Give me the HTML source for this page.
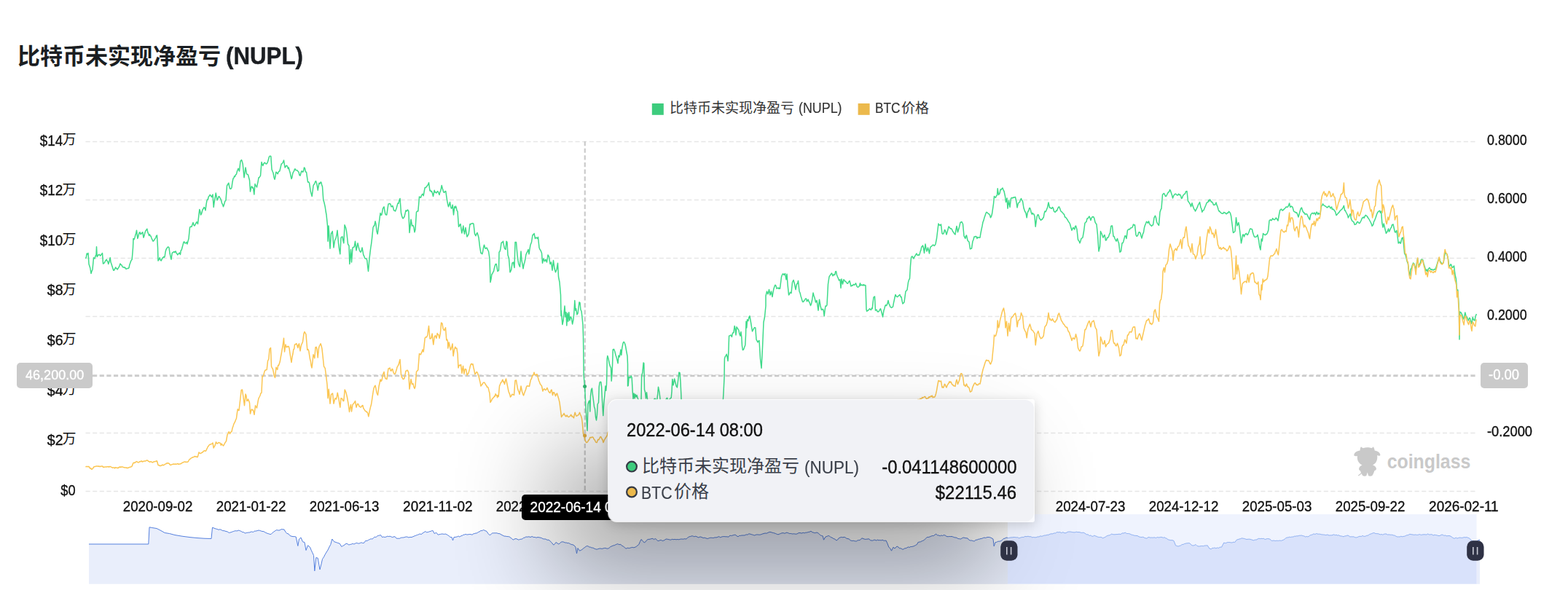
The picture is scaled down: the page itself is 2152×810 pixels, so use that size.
<!DOCTYPE html>
<html lang="zh"><head><meta charset="utf-8"><title>NUPL</title>
<style>
html,body{margin:0;padding:0;background:#fff;}
body{width:2152px;height:810px;position:relative;overflow:hidden;font-family:"Liberation Sans","Noto Sans CJK SC",sans-serif;}
svg{position:absolute;left:0;top:0;}
.t{position:absolute;white-space:nowrap;}
.b{position:absolute;}
.h{position:absolute;white-space:nowrap;font-family:"Liberation Sans","Noto Sans CJK SC",sans-serif;}
</style></head><body>
<svg width="2152" height="810" viewBox="0 0 2152 810">
<defs><filter id="bl" x="-60%" y="-120%" width="220%" height="340%"><feGaussianBlur stdDeviation="66"/></filter><clipPath id="csh"><path d="M0 0H2152V706H1383V802H0Z"/></clipPath><clipPath id="cstrip"><rect x="0" y="802" width="2152" height="8"/></clipPath><clipPath id="csel"><rect x="1383" y="706" width="643.5" height="95.7"/></clipPath></defs>
<line x1="117.5" x2="2025.5" y1="194.5" y2="194.5" stroke="#e6e6e6" stroke-width="1.5" stroke-dasharray="6.2 3.4"/>
<line x1="117.5" x2="2025.5" y1="274.5" y2="274.5" stroke="#e6e6e6" stroke-width="1.5" stroke-dasharray="6.2 3.4"/>
<line x1="117.5" x2="2025.5" y1="354.5" y2="354.5" stroke="#e6e6e6" stroke-width="1.5" stroke-dasharray="6.2 3.4"/>
<line x1="117.5" x2="2025.5" y1="434.5" y2="434.5" stroke="#e6e6e6" stroke-width="1.5" stroke-dasharray="6.2 3.4"/>
<line x1="117.5" x2="2025.5" y1="514.5" y2="514.5" stroke="#e6e6e6" stroke-width="1.5" stroke-dasharray="6.2 3.4"/>
<line x1="117.5" x2="2025.5" y1="594.5" y2="594.5" stroke="#e6e6e6" stroke-width="1.5" stroke-dasharray="6.2 3.4"/>
<line x1="117.5" x2="2025.5" y1="674.5" y2="674.5" stroke="#e6e6e6" stroke-width="1.5" stroke-dasharray="6.2 3.4"/>
<line x1="802.75" x2="802.75" y1="194" y2="674.5" stroke="#cbcbcb" stroke-width="2.2" stroke-dasharray="6.2 3.45"/>
<line x1="127" x2="2025.5" y1="516" y2="516" stroke="#cbcbcb" stroke-width="2.3" stroke-dasharray="6.2 3.45"/>
<polyline fill="none" stroke="#3fdb8a" stroke-width="1.5" stroke-linejoin="round" points="117.5,355.0 118.4,352.7 119.2,348.0 120.1,349.1 121.0,347.5 122.0,362.5 122.9,365.3 123.8,368.0 125.0,375.5 126.0,372.1 127.0,370.0 128.5,353.8 130.0,355.0 131.0,351.5 132.0,350.0 132.5,338.8 133.2,352.5 134.1,351.3 135.0,350.0 135.8,349.5 136.7,349.5 137.5,351.2 138.5,350.2 139.5,348.9 140.5,347.5 141.5,362.0 142.6,361.5 143.8,360.0 144.6,357.9 145.4,357.5 146.2,356.2 147.1,358.3 147.9,359.1 148.8,362.5 149.6,360.1 150.4,357.0 151.2,353.8 152.1,360.3 153.0,362.5 153.9,365.6 154.8,368.2 155.8,371.2 156.8,370.9 157.8,368.6 158.8,367.0 159.6,368.8 160.4,368.7 161.2,370.0 162.2,368.2 163.1,366.9 164.1,364.6 165.0,362.0 166.0,363.5 167.0,363.9 168.0,366.2 168.8,366.8 169.6,366.7 170.4,367.5 171.2,367.0 172.1,367.9 172.9,369.3 173.8,369.0 174.6,368.6 175.4,368.4 176.2,368.5 177.0,367.5 177.8,363.6 178.7,361.3 179.5,358.8 180.4,357.0 181.2,356.2 182.5,340.0 183.0,327.5 184.0,328.7 185.0,326.2 185.8,322.8 186.7,320.2 187.5,316.2 188.8,327.5 189.6,325.4 190.4,321.9 191.2,319.5 192.1,318.7 192.9,321.5 193.8,321.2 194.8,319.6 195.8,318.8 197.0,326.2 197.9,323.8 198.8,320.0 199.8,316.9 200.8,315.8 201.8,314.2 202.8,318.9 203.8,321.2 204.6,323.4 205.4,321.7 206.2,323.8 207.1,324.2 208.0,327.0 209.0,329.1 210.0,331.2 211.0,330.7 212.0,328.9 213.0,327.5 213.8,326.3 214.7,323.6 215.5,323.0 216.5,340.0 217.0,358.0 218.1,356.4 219.2,353.8 220.2,356.9 221.2,358.0 222.1,356.2 222.9,353.9 223.8,353.8 224.6,352.5 225.4,353.3 226.2,352.0 227.1,345.7 228.0,342.5 229.0,340.9 230.0,339.5 231.0,338.9 232.0,340.0 233.0,347.5 234.0,351.8 235.0,356.2 236.2,347.5 237.1,346.6 237.9,346.2 238.8,345.5 239.6,346.7 240.4,345.5 241.2,345.0 242.1,347.9 242.9,348.2 243.8,350.0 244.6,348.6 245.4,348.3 246.2,347.0 247.5,349.5 248.3,343.8 249.2,343.1 250.0,340.0 251.0,336.4 252.0,332.5 252.8,331.8 253.7,333.8 254.5,333.8 255.3,333.7 256.2,332.4 257.0,335.0 258.0,331.1 259.0,327.5 260.5,312.5 261.3,311.2 262.2,311.2 263.0,311.2 264.0,308.2 265.0,305.5 266.0,308.9 267.0,310.0 268.0,308.3 269.0,306.3 270.0,304.5 271.5,307.5 272.6,297.9 273.8,287.5 274.6,289.6 275.5,295.0 276.5,293.6 277.5,290.0 278.3,287.2 279.2,286.7 280.0,284.5 281.0,285.6 282.0,288.8 282.9,281.6 283.8,276.2 284.6,273.8 285.4,273.8 286.2,270.0 287.1,269.4 288.0,267.5 288.8,268.0 289.7,269.2 290.5,270.5 292.0,267.0 293.2,284.5 294.2,277.0 295.2,271.5 296.2,265.0 297.1,269.5 298.0,275.0 299.0,273.1 300.0,270.0 300.8,269.6 301.7,271.4 302.5,272.5 303.5,274.9 304.5,278.8 305.5,280.6 306.5,283.8 307.6,280.6 308.8,276.2 310.0,275.0 311.5,255.0 312.6,253.2 313.8,251.2 314.6,255.5 315.5,258.8 316.3,259.4 317.2,259.0 318.0,257.5 319.0,250.0 320.0,245.0 320.8,244.6 321.7,241.7 322.5,242.5 323.5,239.9 324.5,239.2 325.5,235.0 327.0,231.2 328.5,235.0 330.0,221.2 331.5,219.5 332.4,222.1 333.2,225.0 334.1,234.0 335.0,243.8 336.0,237.0 337.0,230.0 338.5,238.8 339.5,239.4 340.5,240.0 341.5,243.8 342.5,247.5 343.5,263.0 345.0,256.2 345.8,256.0 346.7,258.1 347.5,257.5 348.8,267.0 350.0,252.5 350.8,254.8 351.7,255.3 352.5,257.0 353.3,252.9 354.2,248.8 355.0,243.8 355.8,243.8 356.7,242.4 357.5,241.2 359.0,222.5 359.9,225.6 360.8,227.5 361.6,225.4 362.5,223.8 363.3,223.2 364.2,224.1 365.0,225.0 365.8,224.9 366.7,223.9 367.5,222.0 368.5,218.6 369.5,215.0 370.6,214.2 371.8,214.5 373.0,232.5 374.0,235.3 375.0,237.5 376.0,243.4 377.0,246.2 377.9,242.5 378.8,236.2 379.6,236.5 380.4,237.9 381.2,238.8 382.1,236.2 382.9,235.2 383.8,235.0 384.6,231.8 385.4,228.4 386.2,225.0 387.1,224.6 387.9,223.6 388.7,222.0 389.5,220.0 390.4,226.2 391.2,230.0 392.1,228.7 392.9,227.3 393.8,227.5 394.6,228.8 395.4,231.6 396.2,230.0 397.2,234.2 398.1,236.7 399.1,241.8 400.0,245.5 400.8,243.7 401.7,238.4 402.5,236.2 403.3,235.5 404.2,232.7 405.0,231.8 406.0,233.6 407.0,233.8 408.0,233.8 409.0,235.3 410.0,236.2 411.0,240.6 412.0,241.2 412.9,237.8 413.8,235.0 414.6,235.0 415.5,236.2 416.5,234.8 417.5,230.0 418.5,231.3 419.5,236.1 420.5,236.2 421.5,243.1 422.5,250.0 423.5,249.7 424.5,251.2 425.4,256.9 426.2,262.5 427.2,266.1 428.2,269.5 429.1,262.4 430.0,255.0 430.8,253.2 431.7,252.6 432.5,250.0 433.5,248.5 434.5,251.2 435.4,255.8 436.2,261.2 437.1,256.0 438.0,251.2 439.0,252.3 440.0,250.0 440.8,250.3 441.7,253.9 442.5,256.2 443.8,275.0 444.6,276.9 445.4,280.2 446.2,283.8 447.1,290.0 448.0,295.0 449.5,310.0 450.0,331.2 451.0,310.0 452.0,326.0 453.0,341.2 454.5,320.0 455.4,320.0 456.2,317.5 457.1,328.2 458.0,340.0 459.5,330.0 460.4,328.4 461.2,326.2 462.1,322.3 463.0,316.2 464.5,333.8 465.6,342.1 466.8,348.8 468.0,326.2 469.0,325.3 470.0,325.0 470.9,330.4 471.8,333.8 473.0,308.8 474.5,312.5 475.4,316.7 476.2,322.5 477.5,335.0 479.0,337.5 479.8,362.5 480.6,354.1 481.5,342.5 482.5,360.0 484.0,340.0 485.1,339.5 486.2,338.8 487.5,331.2 489.0,343.8 490.0,338.6 491.0,333.8 492.0,338.4 493.0,342.5 494.0,345.1 495.0,346.2 496.0,344.7 497.0,340.0 497.9,344.9 498.8,350.0 499.6,351.3 500.4,353.9 501.2,355.0 502.1,355.0 502.9,355.1 503.8,357.5 504.6,365.8 505.5,372.5 507.0,355.0 507.9,347.2 508.8,340.0 509.6,334.8 510.5,327.5 512.0,312.5 512.9,310.3 513.8,310.0 515.0,303.8 516.0,308.0 517.0,317.5 518.2,321.2 519.1,314.6 520.0,307.5 521.0,300.1 522.0,292.5 522.9,295.2 523.8,295.0 524.6,291.1 525.5,286.2 527.0,283.8 527.9,289.0 528.8,293.8 529.8,294.9 530.8,295.0 531.9,287.2 533.0,280.0 534.0,279.8 535.0,279.5 536.0,280.4 537.0,283.8 537.9,283.6 538.8,282.5 539.6,284.9 540.5,288.8 541.5,289.0 542.5,290.0 543.3,288.1 544.2,285.8 545.0,282.5 546.0,279.1 547.0,279.3 548.0,274.5 549.0,272.5 550.5,292.5 551.3,295.8 552.2,298.4 553.0,300.0 554.0,299.0 555.0,297.5 556.0,293.3 557.0,288.8 557.8,290.1 558.7,289.1 559.5,288.0 560.8,290.0 562.0,319.5 563.0,310.8 564.0,301.2 565.5,310.0 567.0,309.5 568.0,312.5 569.0,318.8 570.0,315.0 571.5,291.2 572.6,290.0 573.8,290.0 574.6,281.0 575.5,270.0 576.5,270.8 577.5,271.2 578.3,268.7 579.2,267.3 580.0,266.2 581.2,268.8 582.2,262.8 583.2,257.5 584.4,257.5 585.5,256.2 586.5,254.8 587.5,253.5 588.5,250.8 590.0,262.0 590.8,261.4 591.7,263.2 592.5,262.5 593.5,265.5 594.5,269.5 595.4,265.1 596.2,261.2 597.1,264.1 597.9,263.8 598.8,265.0 599.8,263.6 600.8,262.5 601.9,264.8 603.0,267.5 603.8,263.9 604.6,262.4 605.4,259.0 606.2,254.5 607.1,258.2 607.9,260.8 608.8,263.8 609.8,264.3 610.8,262.8 611.8,262.5 612.8,269.8 613.8,276.2 614.6,280.4 615.5,283.8 616.5,280.7 617.5,277.5 618.5,283.4 619.5,286.2 620.4,285.3 621.2,281.2 622.5,295.0 623.8,283.8 624.6,285.4 625.4,282.9 626.2,285.0 627.1,289.2 628.0,290.0 629.5,311.2 630.3,310.6 631.2,308.3 632.0,307.5 632.9,313.7 633.8,320.0 634.8,316.0 635.8,310.0 636.6,316.7 637.5,321.2 639.0,312.5 640.0,319.5 641.0,325.0 642.1,323.3 643.2,321.2 644.1,314.4 645.0,307.5 645.8,308.1 646.7,307.1 647.5,307.0 648.0,307.0 649.0,306.4 650.0,307.5 651.5,321.2 653.0,323.8 654.0,321.1 655.0,319.5 656.0,322.7 657.0,326.2 658.5,338.8 660.0,347.5 660.8,347.4 661.7,348.7 662.5,346.2 663.5,340.0 664.5,336.2 666.0,341.2 667.0,341.1 668.0,340.0 668.8,341.6 669.7,343.6 670.5,345.0 672.0,355.0 673.0,387.5 674.0,383.1 675.0,376.2 675.8,376.1 676.7,373.6 677.5,372.5 678.4,368.2 679.2,365.0 680.2,362.5 681.2,362.5 682.1,367.4 683.0,372.5 684.5,371.2 685.0,346.2 685.9,345.5 686.8,342.5 688.0,333.8 688.8,332.7 689.7,332.7 690.5,331.2 691.5,336.9 692.5,341.2 694.0,342.5 695.0,331.2 696.0,332.5 697.0,350.0 698.5,355.0 700.0,373.8 700.9,372.2 701.8,370.0 703.0,361.2 704.5,360.0 706.0,367.5 707.0,332.5 708.5,332.5 710.0,350.0 710.9,357.2 711.8,362.5 712.6,364.3 713.5,366.2 715.0,345.0 716.0,357.5 717.0,362.4 718.0,368.8 719.0,363.3 720.0,360.0 720.9,355.8 721.8,350.0 722.6,347.8 723.5,346.2 725.0,342.5 726.0,348.8 727.0,342.2 728.0,336.2 729.5,332.5 731.0,322.5 732.0,322.3 733.0,320.5 734.5,327.5 735.5,326.2 736.5,326.2 737.5,327.5 738.5,325.5 740.0,340.0 741.0,342.5 742.0,343.8 743.5,347.5 744.5,361.2 746.0,355.0 747.5,358.8 749.0,356.2 750.5,360.0 752.0,350.0 753.5,352.5 755.0,362.5 756.5,360.0 758.0,371.2 759.5,357.5 761.0,368.8 762.5,373.8 764.0,370.0 765.5,361.2 766.5,380.0 768.0,387.5 769.5,405.0 770.0,433.8 770.2,426.2 771.0,435.0 771.9,445.6 773.1,440.0 774.0,431.2 775.0,420.0 776.0,435.0 776.9,428.8 777.8,446.9 778.8,430.0 779.8,441.2 780.8,428.8 781.9,440.0 783.1,435.0 784.4,436.9 785.6,445.0 786.9,438.8 787.8,430.0 788.8,412.5 789.8,426.2 790.6,423.8 791.9,431.9 793.1,430.0 794.0,422.5 795.0,414.8 796.0,415.6 796.9,425.0 798.1,427.5 799.0,436.2 800.0,446.2 800.5,462.5 800.8,485.0 801.0,500.0 801.2,516.2 802.5,530.4 803.1,541.2 804.0,560.0 805.0,575.0 806.0,591.2 806.5,575.0 806.9,555.0 808.1,551.2 809.0,550.0 809.8,565.0 810.5,543.8 811.5,535.0 812.5,533.1 813.5,542.5 814.5,550.0 815.6,558.8 816.5,561.2 817.5,572.5 818.5,576.9 819.4,570.0 820.2,555.0 821.5,552.5 822.2,531.2 823.1,525.0 823.9,524.2 824.8,524.4 825.6,531.2 826.5,550.0 827.8,570.6 828.8,553.8 830.0,541.2 831.0,530.0 831.8,536.2 832.5,527.5 832.9,512.5 833.2,492.5 833.8,488.5 835.0,492.5 836.5,500.0 837.5,503.1 838.5,505.0 839.2,523.1 840.0,512.5 840.6,500.0 841.0,487.5 841.2,480.0 842.5,479.4 843.8,482.5 845.0,487.5 845.9,490.1 846.9,493.8 848.1,498.8 849.0,488.1 850.2,490.0 851.1,486.0 851.9,480.0 852.8,487.5 853.8,477.5 855.2,470.6 856.1,469.4 856.9,470.2 857.7,472.0 858.5,475.0 859.8,482.5 861.0,488.8 861.5,500.0 861.5,530.0 862.2,529.4 863.1,517.5 864.1,518.1 865.0,518.8 866.2,516.0 867.2,518.8 868.1,536.2 869.0,547.5 870.0,540.0 871.0,546.9 871.9,541.2 873.1,545.0 874.0,542.5 875.0,546.2 875.9,548.3 876.9,550.0 877.7,557.5 878.5,565.0 880.0,550.0 880.6,516.2 881.9,511.2 883.1,498.1 883.8,498.8 884.1,512.5 884.5,535.0 885.6,538.8 886.5,546.9 887.5,538.8 888.5,547.5 890.0,565.0 890.8,568.7 891.7,571.3 892.5,575.0 893.3,569.9 894.2,566.1 895.0,560.0 896.0,556.4 897.1,551.3 898.1,547.5 899.4,547.2 900.6,552.5 901.9,547.5 902.7,540.9 903.5,531.2 905.0,538.8 906.0,547.5 907.5,570.0 908.3,571.5 909.2,576.7 910.0,580.0 910.8,574.8 911.7,569.2 912.5,562.5 913.4,555.1 914.4,547.5 915.6,546.2 916.6,549.0 917.5,552.5 918.4,550.5 919.4,547.5 920.3,546.7 921.2,546.2 922.0,537.5 922.8,520.6 924.0,528.8 924.8,524.8 925.6,520.0 926.9,525.0 928.1,530.0 929.4,531.9 930.6,522.5 931.9,511.2 933.1,511.9 934.0,525.0 934.8,541.2 935.0,547.5 936.2,575.0 937.1,576.6 937.9,583.7 938.8,587.5 939.6,583.5 940.4,581.7 941.2,577.5 942.1,583.2 942.9,588.2 943.8,592.5 944.7,589.6 945.6,587.9 946.6,584.7 947.5,582.5 948.4,586.4 949.4,589.9 950.3,593.0 951.2,597.5 952.2,596.8 953.1,593.2 954.1,588.1 955.0,587.5 955.9,591.1 956.9,591.9 957.8,595.7 958.8,598.8 959.7,596.0 960.6,593.9 961.6,592.4 962.5,590.0 963.4,592.2 964.4,593.7 965.3,597.5 966.2,600.0 967.2,597.2 968.1,595.3 969.1,590.3 970.0,587.5 970.9,588.3 971.9,590.9 972.8,593.7 973.8,595.0 974.7,590.5 975.6,586.9 976.6,584.2 977.5,580.0 978.4,581.9 979.4,583.9 980.3,585.1 981.2,587.5 982.2,582.4 983.1,578.5 984.1,574.2 985.0,570.0 985.9,570.9 986.9,572.9 987.8,574.2 988.8,575.0 989.6,569.2 990.4,562.9 991.2,556.2 992.5,547.5 993.1,537.5 994.0,518.8 994.4,492.5 995.2,489.8 996.0,488.8 997.2,486.2 998.1,490.0 999.0,495.6 999.8,485.0 1000.6,461.2 1001.9,460.6 1003.1,460.0 1004.4,462.5 1005.2,458.1 1006.1,456.5 1006.9,456.9 1008.1,447.5 1009.0,451.2 1010.0,460.0 1011.0,448.8 1012.2,450.6 1013.8,453.1 1015.0,458.8 1016.0,461.2 1016.9,455.6 1017.8,462.5 1018.5,475.0 1019.4,480.6 1020.3,480.1 1021.2,478.1 1022.8,473.8 1023.5,460.0 1024.0,441.2 1024.8,450.0 1025.6,438.8 1026.9,440.6 1028.1,435.0 1029.0,433.8 1030.5,442.5 1031.5,448.8 1032.5,455.0 1033.5,453.2 1034.5,451.2 1035.6,449.6 1036.8,450.0 1038.0,466.2 1039.0,467.9 1040.0,470.0 1041.0,468.2 1042.0,467.5 1043.5,492.5 1045.0,505.5 1046.5,477.5 1048.0,442.5 1049.5,435.0 1051.0,420.0 1051.0,406.2 1052.5,400.0 1054.0,403.8 1055.5,397.5 1057.0,405.0 1058.5,400.0 1060.0,407.5 1061.0,401.1 1062.0,396.2 1063.0,393.2 1064.0,391.2 1065.0,392.4 1066.0,396.2 1067.0,395.7 1068.0,395.0 1068.8,396.5 1069.7,395.2 1070.5,396.2 1071.5,388.2 1072.5,380.0 1074.0,376.2 1075.0,375.9 1076.0,377.5 1077.5,375.5 1079.0,383.8 1080.0,376.2 1081.0,390.0 1082.5,405.0 1083.5,403.7 1084.5,401.2 1086.0,402.5 1087.5,387.5 1089.0,384.5 1090.5,390.0 1092.0,397.5 1093.5,390.0 1094.5,389.4 1095.5,385.5 1097.0,400.0 1098.0,402.0 1099.0,406.2 1100.0,409.4 1101.0,413.0 1102.0,414.7 1103.0,413.8 1103.8,412.8 1104.7,411.4 1105.5,410.0 1106.5,410.0 1107.5,413.8 1108.4,412.4 1109.2,411.2 1110.1,414.0 1111.0,415.0 1112.5,419.5 1113.5,417.3 1114.5,412.5 1116.0,402.0 1117.0,406.0 1118.0,408.8 1119.5,415.0 1121.0,412.5 1122.0,418.9 1123.0,426.2 1124.5,411.2 1126.0,420.0 1127.5,425.5 1128.5,424.4 1129.5,424.5 1130.4,427.5 1131.2,433.8 1132.1,425.9 1133.0,420.0 1134.0,420.4 1135.0,418.8 1136.5,390.0 1138.0,380.0 1139.0,378.4 1140.0,377.0 1141.5,375.0 1143.0,378.8 1144.0,376.9 1145.0,377.5 1145.8,377.0 1146.7,372.7 1147.5,372.5 1148.5,377.4 1149.5,380.0 1150.5,382.2 1151.5,385.0 1153.0,383.8 1154.0,395.5 1155.0,383.0 1156.5,390.0 1158.0,383.8 1158.8,384.9 1159.7,386.0 1160.5,386.2 1161.5,387.7 1162.5,388.8 1163.5,389.3 1164.5,387.5 1166.0,385.5 1167.0,389.3 1168.0,393.0 1168.8,392.4 1169.7,391.7 1170.5,392.0 1171.3,390.4 1172.2,390.9 1173.0,391.2 1174.5,388.8 1176.0,393.0 1176.8,394.1 1177.7,394.2 1178.5,393.8 1179.5,392.5 1180.5,388.8 1181.3,392.0 1182.2,391.1 1183.0,391.2 1184.0,392.0 1185.0,390.6 1186.0,392.0 1186.0,391.2 1187.0,391.4 1188.0,392.0 1189.0,425.0 1189.8,427.4 1190.7,426.3 1191.5,426.2 1192.5,424.9 1193.5,423.8 1194.5,424.9 1195.5,425.5 1196.4,422.9 1197.2,423.8 1198.1,415.1 1199.0,408.0 1200.5,407.0 1201.5,426.2 1202.3,425.5 1203.2,425.2 1204.0,427.5 1204.8,428.0 1205.7,428.0 1206.5,427.0 1207.5,425.2 1208.5,423.8 1210.0,428.8 1211.5,435.0 1213.0,426.2 1213.9,423.4 1214.8,420.0 1215.6,418.7 1216.4,419.6 1217.2,418.8 1218.1,416.3 1219.0,412.5 1220.0,417.0 1221.0,418.8 1221.8,421.4 1222.7,421.7 1223.5,422.5 1224.5,421.8 1225.5,421.2 1226.4,416.1 1227.2,412.5 1228.1,408.0 1229.0,404.5 1230.0,406.6 1231.0,407.5 1232.0,407.4 1233.0,406.2 1234.0,405.4 1235.0,404.5 1236.0,407.5 1237.0,407.5 1238.0,412.8 1239.0,417.0 1240.0,416.0 1241.0,415.0 1242.0,407.3 1243.0,400.0 1244.0,399.1 1245.0,398.0 1246.5,387.5 1247.5,384.1 1248.5,382.5 1249.5,365.0 1250.5,353.8 1251.4,352.0 1252.2,352.0 1253.1,353.8 1254.0,355.0 1255.0,352.6 1256.0,351.2 1257.0,349.4 1258.0,348.0 1258.9,350.3 1259.8,350.5 1260.6,349.7 1261.4,350.5 1262.2,348.8 1263.1,345.4 1263.9,343.4 1264.8,338.8 1265.6,338.3 1266.5,337.0 1267.5,340.7 1268.5,347.5 1270.0,335.0 1271.0,341.1 1272.0,345.0 1273.5,340.0 1274.5,343.8 1275.5,348.0 1276.4,341.6 1277.2,338.8 1278.1,338.3 1278.9,337.7 1279.8,337.0 1280.6,336.0 1281.4,336.8 1282.2,337.5 1283.1,336.7 1284.0,335.0 1285.5,327.5 1287.0,315.0 1288.0,307.0 1288.9,309.1 1289.8,308.8 1290.6,309.4 1291.5,308.0 1293.0,320.5 1293.8,321.3 1294.7,320.8 1295.5,319.5 1296.4,315.6 1297.2,316.2 1298.1,318.5 1299.0,322.0 1300.0,318.7 1301.0,315.0 1302.0,311.1 1303.0,312.0 1303.8,313.3 1304.7,314.0 1305.5,313.8 1306.5,314.9 1307.5,317.5 1308.5,318.7 1309.5,320.5 1311.0,322.0 1312.0,315.4 1313.0,310.5 1314.5,318.8 1316.0,313.8 1317.0,309.6 1318.0,305.5 1319.0,305.0 1320.0,304.5 1321.5,307.5 1323.0,323.8 1323.9,325.6 1324.8,327.5 1325.6,324.3 1326.5,323.0 1328.0,330.0 1329.0,331.3 1330.0,332.0 1331.5,342.0 1332.5,341.3 1333.5,341.2 1335.0,331.2 1336.0,329.0 1337.0,325.0 1338.0,325.0 1339.0,324.5 1340.0,324.7 1341.0,327.5 1342.0,325.6 1343.0,326.2 1344.0,326.3 1345.0,326.2 1346.0,320.2 1347.0,315.0 1348.0,310.4 1349.0,305.0 1350.0,302.6 1351.0,298.8 1352.0,295.9 1353.0,293.0 1353.8,291.3 1354.7,291.6 1355.5,292.5 1356.5,293.6 1357.5,293.8 1358.5,295.3 1359.5,298.8 1360.5,297.2 1361.5,293.8 1362.5,286.8 1363.5,280.0 1364.5,269.5 1365.5,270.8 1366.5,271.2 1367.5,268.8 1368.5,268.0 1369.2,258.8 1370.5,267.5 1371.4,266.2 1372.2,265.0 1373.1,260.1 1374.0,260.5 1375.0,259.1 1376.0,258.0 1377.0,260.8 1378.0,262.5 1379.5,269.5 1380.5,277.5 1382.0,272.0 1383.0,286.2 1384.5,275.0 1386.0,284.5 1387.5,272.5 1388.6,271.4 1389.8,272.0 1390.6,270.9 1391.5,271.2 1392.5,270.8 1393.5,270.5 1395.0,277.5 1396.0,285.0 1397.5,278.8 1398.5,278.2 1399.5,277.5 1400.5,274.3 1401.5,272.5 1402.5,275.0 1403.5,276.2 1405.0,285.5 1406.5,290.0 1408.0,292.5 1409.2,298.8 1410.1,292.9 1411.0,290.0 1411.8,289.5 1412.7,285.7 1413.5,285.5 1414.5,288.3 1415.5,292.5 1416.3,294.1 1417.2,292.4 1418.0,293.8 1419.0,293.9 1420.0,297.0 1421.2,311.2 1422.1,304.7 1423.0,298.0 1423.9,295.4 1424.8,294.5 1425.6,296.2 1426.5,300.0 1427.5,300.6 1428.5,302.5 1429.5,301.2 1430.5,301.2 1431.4,299.1 1432.2,298.8 1433.1,293.4 1434.0,290.0 1435.0,290.8 1436.0,288.8 1437.5,285.0 1439.0,278.0 1440.5,285.0 1441.5,285.0 1442.5,286.2 1443.5,286.2 1444.5,284.5 1445.5,286.0 1446.5,290.0 1447.5,291.1 1448.5,291.2 1449.5,289.2 1450.5,289.5 1452.0,285.5 1453.5,283.8 1454.5,285.8 1455.5,288.8 1456.5,290.6 1457.5,291.2 1458.5,292.0 1459.5,293.8 1460.5,294.1 1461.5,298.0 1462.5,298.3 1463.5,299.5 1464.5,300.9 1465.5,302.5 1466.5,304.5 1467.5,305.5 1468.5,307.5 1469.5,311.2 1471.0,316.2 1472.0,314.1 1473.0,312.5 1473.9,313.8 1474.8,315.0 1475.6,311.0 1476.5,310.0 1478.0,315.0 1479.5,328.8 1480.3,330.3 1481.2,331.3 1482.0,333.8 1483.0,331.0 1484.0,327.5 1485.0,326.8 1486.0,326.2 1487.5,317.5 1489.0,306.2 1490.0,305.2 1491.0,304.5 1492.0,300.1 1493.0,300.0 1494.0,298.4 1495.0,297.0 1496.0,299.4 1497.0,302.5 1498.0,299.4 1499.0,298.0 1500.0,297.5 1501.0,298.0 1502.0,300.4 1503.0,305.0 1504.0,306.7 1505.0,308.0 1506.5,322.5 1508.0,345.0 1509.5,338.8 1510.5,317.5 1511.4,320.0 1512.2,321.2 1513.1,324.3 1514.0,326.2 1515.0,323.9 1516.0,322.5 1517.5,330.0 1518.5,329.6 1519.5,326.2 1520.5,326.4 1521.5,325.0 1522.5,321.6 1523.5,320.0 1524.8,310.5 1525.6,310.1 1526.5,310.0 1528.0,324.5 1529.0,324.5 1530.0,327.5 1531.0,329.3 1532.0,331.2 1533.5,327.5 1534.5,331.3 1535.5,333.8 1537.0,346.2 1538.5,345.0 1540.0,333.8 1541.0,333.6 1542.0,331.2 1543.0,327.1 1544.0,323.8 1545.0,324.0 1546.0,327.5 1547.5,316.2 1548.5,315.2 1549.5,314.5 1550.5,315.0 1551.5,313.0 1552.5,312.9 1553.5,312.5 1554.5,311.4 1555.5,308.0 1556.5,309.1 1557.5,308.8 1559.0,322.5 1560.0,324.5 1561.0,323.8 1562.0,321.8 1563.0,318.8 1564.0,318.8 1565.0,320.0 1566.0,323.9 1567.0,327.0 1568.5,321.2 1569.5,319.2 1570.5,312.5 1571.5,309.3 1572.5,307.0 1573.5,304.3 1574.5,305.0 1575.5,306.3 1576.5,303.8 1577.5,306.6 1578.5,308.8 1579.5,309.1 1580.5,310.5 1581.5,309.1 1582.5,308.8 1584.0,298.8 1585.5,296.2 1586.5,299.0 1587.5,304.5 1588.5,306.8 1589.5,308.0 1590.5,309.5 1592.0,291.2 1593.0,288.2 1594.0,286.2 1595.5,267.5 1596.5,266.1 1597.5,265.5 1598.5,267.1 1599.5,269.5 1600.5,269.5 1601.5,267.5 1602.5,265.5 1603.5,263.8 1604.5,263.4 1605.5,260.5 1606.5,262.0 1607.5,265.0 1608.5,267.9 1609.5,272.0 1610.5,269.3 1611.5,267.5 1612.5,266.4 1613.5,266.2 1614.5,267.0 1615.5,268.0 1616.5,268.0 1617.5,266.2 1618.5,267.7 1619.5,267.0 1620.5,268.8 1621.5,272.5 1622.5,271.8 1623.5,268.8 1624.5,267.6 1625.5,266.2 1626.5,266.1 1627.5,263.0 1629.0,262.5 1630.5,276.2 1631.5,277.3 1632.5,278.8 1633.5,280.5 1634.5,283.8 1636.0,278.8 1637.0,282.6 1638.0,285.0 1638.8,287.2 1639.7,287.9 1640.5,290.0 1641.5,288.1 1642.5,286.2 1643.5,283.9 1644.5,281.2 1645.5,279.7 1646.5,277.5 1648.0,285.0 1648.9,286.6 1649.8,291.2 1650.9,288.9 1652.0,288.8 1653.0,286.3 1654.0,283.8 1655.0,281.5 1656.0,278.8 1657.0,277.7 1658.0,277.5 1658.8,274.7 1659.7,276.2 1660.5,273.8 1661.5,275.3 1662.5,277.5 1663.5,277.2 1664.5,278.8 1665.5,281.4 1666.5,281.2 1667.3,281.2 1668.2,280.0 1669.0,278.0 1670.0,281.6 1671.0,283.8 1672.0,287.4 1673.0,290.0 1673.8,289.8 1674.7,291.4 1675.5,292.0 1676.3,292.7 1677.2,293.2 1678.0,293.0 1678.8,293.1 1679.7,291.4 1680.5,292.0 1681.3,292.0 1682.2,292.9 1683.0,293.8 1683.8,293.2 1684.7,292.1 1685.5,292.5 1686.5,290.2 1687.5,291.2 1688.5,292.7 1689.5,296.2 1691.0,307.5 1692.5,319.5 1693.3,319.1 1694.2,318.2 1695.0,317.5 1696.5,298.8 1698.0,310.0 1698.9,308.3 1699.8,305.5 1700.6,309.2 1701.5,316.2 1702.5,324.6 1703.5,333.8 1704.5,328.9 1705.5,322.5 1706.5,322.0 1707.5,325.0 1708.5,322.2 1709.5,321.2 1710.5,320.4 1711.5,322.5 1712.5,322.3 1713.5,320.0 1714.3,317.9 1715.2,315.3 1716.0,313.8 1716.8,314.3 1717.7,314.5 1718.5,315.0 1719.5,319.6 1720.5,322.5 1721.5,325.1 1722.5,325.5 1724.0,325.0 1725.0,324.5 1726.0,322.4 1727.6,330.0 1728.8,339.0 1730.0,343.0 1731.2,328.0 1732.4,331.0 1733.6,320.4 1734.6,321.7 1735.6,322.4 1736.4,322.7 1737.2,321.6 1738.2,321.7 1739.2,320.4 1740.8,316.0 1742.0,303.0 1743.6,301.6 1744.6,302.8 1745.6,302.0 1746.6,299.8 1747.6,301.0 1748.6,301.6 1749.6,301.6 1750.4,300.4 1751.2,299.0 1752.8,301.0 1754.0,303.0 1755.6,294.0 1756.8,288.4 1757.6,287.8 1758.4,287.0 1760.0,289.0 1761.6,288.0 1762.6,286.8 1763.6,286.0 1764.4,284.9 1765.2,284.0 1766.8,284.4 1767.6,283.8 1768.4,282.4 1769.6,279.0 1770.8,284.4 1771.6,283.9 1772.4,283.0 1774.0,284.4 1775.6,290.0 1776.4,290.6 1777.2,291.0 1778.8,292.0 1779.6,291.8 1780.4,293.6 1782.0,298.0 1783.6,292.0 1785.0,287.0 1786.4,285.0 1788.0,290.0 1789.6,292.4 1790.4,292.3 1791.2,294.4 1792.8,293.6 1793.6,293.9 1794.4,295.6 1796.0,299.0 1797.6,301.6 1798.4,296.4 1799.2,294.4 1800.8,292.4 1801.6,292.5 1802.4,293.6 1804.0,292.0 1805.6,295.0 1806.4,292.2 1807.2,291.0 1808.8,294.4 1809.6,292.4 1810.4,293.6 1812.0,294.0 1813.2,283.6 1814.8,281.6 1815.6,279.9 1816.4,281.6 1818.0,282.4 1819.6,283.6 1820.4,283.9 1821.2,285.0 1822.8,284.0 1823.6,283.0 1824.4,283.0 1826.0,286.0 1827.6,284.0 1828.4,287.5 1829.2,287.0 1830.8,288.0 1831.6,289.8 1832.4,290.0 1834.0,295.6 1835.6,294.0 1836.4,292.5 1837.2,292.4 1838.8,290.0 1839.6,288.8 1840.4,288.4 1842.0,287.0 1843.6,284.4 1844.4,282.4 1845.6,289.0 1846.4,289.1 1847.2,291.0 1848.8,294.0 1849.6,295.8 1850.4,299.0 1852.0,296.0 1853.2,293.6 1854.4,300.4 1856.0,303.6 1857.6,304.4 1858.4,306.1 1859.2,308.4 1860.2,308.0 1861.2,307.6 1862.8,304.4 1863.6,304.4 1864.4,305.6 1865.4,306.5 1866.4,306.0 1868.0,303.0 1869.6,299.0 1870.4,299.1 1871.2,298.0 1872.2,299.3 1873.2,297.0 1874.2,295.3 1875.2,296.0 1876.8,297.6 1877.6,299.4 1878.4,300.0 1880.0,303.0 1881.6,306.0 1882.4,307.9 1883.2,310.4 1884.8,308.0 1885.6,304.1 1886.4,303.0 1888.0,299.0 1889.6,294.0 1890.4,292.2 1891.2,291.0 1892.8,289.6 1893.6,289.3 1894.4,292.0 1895.6,290.0 1896.8,306.0 1898.0,312.0 1899.2,307.0 1900.8,314.0 1901.6,317.2 1902.4,320.4 1904.0,318.0 1905.6,314.0 1906.4,318.0 1907.2,317.0 1908.8,313.0 1909.6,312.2 1910.4,309.0 1912.0,308.0 1913.6,315.0 1914.4,318.6 1915.2,319.0 1916.8,316.4 1918.0,324.0 1919.2,334.0 1920.8,332.0 1921.6,334.1 1922.4,334.0 1924.0,327.0 1925.2,326.0 1926.4,335.0 1927.6,348.0 1929.0,350.0 1930.0,354.0 1931.2,359.0 1932.4,362.0 1933.6,373.0 1934.8,379.0 1936.0,370.0 1937.2,368.0 1938.4,364.0 1939.6,361.0 1940.8,362.0 1942.0,366.0 1943.2,370.0 1944.4,361.0 1945.6,355.0 1946.8,364.0 1948.0,364.0 1949.6,360.0 1950.4,356.6 1951.2,356.0 1952.8,357.0 1954.0,362.0 1955.6,367.0 1956.8,372.0 1958.0,370.0 1959.2,373.0 1960.4,369.0 1962.0,367.6 1963.6,370.0 1964.4,370.2 1965.2,369.6 1966.8,371.0 1967.6,370.4 1968.4,369.6 1970.0,370.0 1971.6,365.0 1972.8,361.0 1974.0,357.0 1975.2,354.0 1976.4,358.0 1978.0,361.0 1979.6,362.0 1980.4,361.4 1981.2,360.0 1982.4,352.0 1983.6,346.0 1984.8,348.0 1985.6,348.6 1986.4,351.0 1987.6,356.0 1988.8,366.0 1990.0,365.0 1991.0,362.7 1992.0,364.0 1993.0,367.4 1994.0,367.0 1995.6,365.0 1996.4,372.6 1997.2,378.0 1998.4,383.0 1999.6,398.0 2000.8,398.0 2001.6,410.0 2002.4,424.0 2003.0,466.0 2003.6,428.0 2004.4,428.8 2005.2,429.0 2006.8,432.4 2007.6,434.8 2008.4,438.0 2009.6,435.6 2010.8,429.0 2012.0,434.0 2013.6,436.0 2014.4,438.2 2015.2,440.0 2016.8,436.4 2017.6,437.1 2018.4,440.0 2019.6,444.0 2020.4,440.7 2021.2,435.6 2022.4,439.0 2024.0,440.0 2025.2,434.0 2026.4,431.0"/>
<polyline fill="none" stroke="#fbc653" stroke-width="1.5" stroke-linejoin="round" points="117.5,641.0 118.4,640.5 119.4,640.4 120.3,640.8 121.2,640.5 122.1,640.6 122.9,642.1 123.8,643.0 124.6,642.7 125.4,644.2 126.2,644.2 127.1,643.2 127.9,642.5 128.8,641.0 129.7,640.6 130.6,640.6 131.6,640.2 132.5,640.0 133.4,639.9 134.4,640.3 135.3,640.0 136.2,640.5 137.2,640.3 138.1,640.5 139.1,640.1 140.0,640.0 140.8,640.3 141.7,641.5 142.5,641.2 143.4,641.2 144.4,640.9 145.3,641.1 146.2,641.0 147.1,640.8 147.9,640.7 148.8,640.6 149.6,641.3 150.4,640.6 151.2,640.5 152.2,640.9 153.1,641.5 154.1,642.2 155.0,642.0 155.8,642.0 156.7,641.9 157.5,642.9 158.3,641.7 159.2,642.1 160.0,642.2 160.9,642.3 161.9,642.7 162.8,641.6 163.8,641.8 164.7,640.8 165.6,641.6 166.6,641.0 167.5,641.0 168.4,641.1 169.4,641.6 170.3,641.8 171.2,642.0 172.2,642.1 173.1,642.0 174.1,642.6 175.0,642.2 175.9,642.5 176.9,641.8 177.8,641.4 178.8,641.2 179.6,641.1 180.4,640.6 181.2,640.0 182.1,637.4 183.0,635.5 183.8,635.2 184.7,635.5 185.5,635.0 186.5,634.2 187.5,633.5 188.5,634.2 189.5,635.0 190.5,634.6 191.5,634.0 192.5,633.5 193.4,633.5 194.4,632.9 195.3,634.0 196.2,633.5 197.1,633.4 197.9,632.9 198.8,633.0 199.8,632.9 200.8,632.3 201.8,631.8 202.7,632.3 203.6,633.2 204.5,633.5 205.5,634.3 206.5,633.8 207.5,633.8 208.3,634.5 209.2,634.9 210.0,634.5 211.0,633.9 212.0,633.7 213.0,633.5 213.8,633.6 214.7,632.7 215.5,633.0 217.0,638.5 218.0,638.7 219.0,639.4 220.0,639.2 220.9,639.4 221.9,639.0 222.8,638.1 223.8,638.5 224.6,638.8 225.4,637.9 226.2,637.6 227.0,637.0 228.0,636.8 229.0,635.8 230.0,636.0 230.8,635.8 231.7,636.1 232.5,636.8 233.5,638.2 234.5,638.5 235.5,637.8 236.5,637.6 237.5,637.2 238.4,637.1 239.4,637.3 240.3,637.2 241.2,637.0 242.2,637.2 243.1,636.9 244.1,636.4 245.0,637.5 245.8,637.3 246.7,637.1 247.5,636.8 248.3,636.7 249.2,635.9 250.0,635.5 250.8,634.9 251.7,634.8 252.5,634.2 253.3,633.9 254.2,634.1 255.0,634.5 255.8,634.1 256.7,634.4 257.5,634.2 258.3,633.6 259.2,632.0 260.0,630.5 261.0,630.2 262.0,629.2 263.0,628.5 263.8,628.3 264.7,627.7 265.5,627.5 266.3,627.2 267.2,626.4 268.0,627.0 268.8,626.8 269.6,626.9 270.4,627.6 271.2,627.5 272.1,624.4 273.0,621.0 273.8,621.8 274.7,622.5 275.5,622.5 276.3,621.7 277.2,621.5 278.0,620.5 278.8,620.4 279.7,619.2 280.5,618.5 281.5,619.2 282.5,619.2 283.5,617.1 284.5,615.0 285.3,613.2 286.2,612.4 287.0,611.0 288.0,610.3 289.0,610.0 290.0,609.7 291.0,609.2 292.0,608.0 293.2,615.0 294.1,613.2 295.0,611.8 296.5,606.8 298.0,609.2 299.0,608.5 300.0,607.5 302.5,608.5 303.3,611.2 304.2,609.3 305.0,610.5 306.5,612.0 307.6,610.3 308.8,608.0 309.6,606.9 310.5,605.5 312.0,596.8 312.9,595.6 313.8,593.0 314.6,593.1 315.5,595.5 316.3,594.1 317.2,592.9 318.0,592.5 319.0,587.8 320.0,585.0 320.8,582.4 321.7,580.7 322.5,579.2 323.5,576.5 324.5,574.2 325.4,567.2 326.2,561.8 327.1,563.0 328.0,563.5 329.5,550.5 330.4,542.5 331.2,535.5 332.5,535.0 334.0,545.5 335.5,556.8 337.0,541.0 337.9,543.0 338.8,550.5 339.6,550.3 340.5,548.0 341.5,550.2 342.5,553.0 343.5,568.0 345.0,562.5 345.8,562.0 346.7,563.1 347.5,563.0 349.0,569.2 350.5,556.8 351.5,558.6 352.5,560.0 353.3,555.6 354.2,550.4 355.0,546.8 356.0,545.0 357.0,543.0 358.0,539.8 359.0,539.2 360.0,516.8 361.0,516.7 362.0,514.2 362.9,510.3 363.8,508.5 364.6,508.0 365.4,507.8 366.2,507.5 367.5,495.5 368.8,493.0 370.0,479.2 371.5,477.5 372.5,503.0 373.5,505.1 374.5,506.8 375.4,511.2 376.2,516.0 377.5,518.5 379.0,504.2 379.9,506.3 380.8,507.5 381.6,501.5 382.5,501.8 383.4,499.1 384.2,496.8 385.2,490.9 386.2,485.5 387.1,480.0 388.0,475.5 389.5,464.2 390.5,483.0 392.0,473.0 392.9,476.1 393.8,476.8 394.6,475.4 395.4,475.7 396.2,475.5 397.1,478.7 398.0,485.5 399.0,491.6 400.0,497.5 401.0,490.0 402.0,485.5 402.8,479.9 403.7,479.1 404.5,473.0 405.3,473.1 406.2,472.0 407.0,471.8 407.9,474.7 408.8,477.5 409.6,473.3 410.5,471.8 412.0,481.8 412.9,476.4 413.8,473.0 414.6,471.4 415.5,469.2 417.0,458.0 417.9,455.4 418.8,456.8 420.0,459.2 420.9,470.0 421.8,480.5 422.8,479.5 423.8,481.8 424.6,487.4 425.5,493.0 426.3,495.9 427.2,502.4 428.0,505.0 429.0,496.6 430.0,486.8 430.9,488.7 431.8,491.8 433.0,476.8 434.0,476.3 435.0,479.2 436.2,491.0 437.5,478.0 438.3,475.1 439.2,473.7 440.0,471.8 441.0,474.5 442.0,479.2 443.2,490.5 444.5,503.0 445.4,504.4 446.2,505.5 447.5,515.5 449.0,528.0 450.0,546.8 451.2,534.2 452.1,545.0 453.0,554.2 454.5,541.8 455.5,540.7 456.5,540.0 458.0,554.2 459.0,550.0 460.0,546.8 461.5,548.0 462.4,544.2 463.2,539.2 464.1,543.3 465.0,548.0 465.9,554.2 466.8,559.2 468.0,546.8 469.0,547.0 470.0,548.0 470.9,550.5 471.8,550.5 473.2,535.0 474.1,536.8 475.0,539.2 476.5,545.5 478.0,554.2 479.5,565.5 480.5,559.5 481.5,555.5 482.5,565.0 484.0,555.5 485.1,554.2 486.2,553.0 487.5,550.5 489.0,559.2 490.0,556.1 491.0,554.2 492.0,555.2 493.0,558.0 494.0,558.4 495.0,559.2 496.0,558.5 497.0,556.8 497.9,556.6 498.8,560.5 499.6,561.6 500.4,562.8 501.2,564.2 502.1,564.4 502.9,565.7 503.8,565.5 504.8,567.4 505.8,571.8 506.6,567.8 507.5,563.0 508.5,558.9 509.5,555.5 510.4,549.9 511.2,544.2 512.1,538.3 513.0,533.0 514.0,530.7 515.0,529.2 516.0,533.7 517.0,539.2 518.5,542.5 520.0,530.5 521.0,526.0 522.0,521.0 522.9,523.5 523.8,522.5 524.6,519.2 525.5,514.2 527.0,510.5 527.9,515.5 528.8,519.2 529.9,520.3 531.0,520.5 532.0,512.7 533.0,506.0 534.0,505.9 535.0,505.0 536.0,508.8 537.0,509.2 537.9,506.8 538.8,506.8 539.6,510.3 540.5,512.5 541.5,513.5 542.5,513.0 543.3,510.2 544.2,507.8 545.0,504.2 546.0,502.7 547.0,500.7 548.0,497.2 549.0,493.5 550.5,514.2 551.3,517.7 552.2,518.6 553.0,520.5 554.0,520.5 555.0,519.2 556.0,514.3 557.0,509.2 557.8,509.2 558.7,508.3 559.5,508.5 560.8,511.8 562.0,534.2 563.0,527.9 564.0,520.5 565.5,527.5 567.0,526.8 568.0,531.3 569.0,533.5 570.0,530.5 571.5,510.5 572.6,509.1 573.8,508.0 574.6,496.9 575.5,485.5 576.5,486.6 577.5,486.8 578.3,484.5 579.2,483.0 580.0,480.0 581.2,483.0 582.2,473.8 583.2,464.2 584.4,462.6 585.5,463.0 586.9,460.0 587.7,452.8 588.5,447.5 590.0,465.0 590.9,465.0 591.9,463.8 593.1,458.1 593.9,466.1 594.8,473.1 596.2,462.5 597.5,460.6 599.0,464.4 600.2,457.5 601.1,459.3 601.9,459.4 603.1,464.4 604.4,457.5 605.6,443.1 606.9,443.8 608.1,451.2 608.9,452.7 609.8,453.8 610.6,451.9 611.5,449.8 612.8,466.9 613.6,466.1 614.4,468.1 614.8,478.1 616.2,470.0 617.2,475.0 618.5,480.6 620.0,476.2 621.0,471.9 622.1,488.8 623.5,480.0 624.8,476.2 625.8,478.4 626.9,478.1 628.1,486.2 629.0,505.0 629.8,502.3 630.6,501.2 631.6,501.8 632.5,500.6 634.0,512.5 634.8,506.5 635.6,502.5 636.9,513.1 638.1,506.9 638.9,506.6 639.8,507.5 641.0,515.0 642.1,513.5 643.1,511.9 644.4,506.9 645.3,503.0 646.2,500.0 647.2,499.3 648.1,500.6 649.0,499.8 649.8,504.2 650.6,507.5 651.9,513.8 652.7,513.0 653.5,511.4 654.4,510.6 655.3,511.8 656.2,514.4 657.2,517.4 658.1,521.2 659.1,525.2 660.0,530.0 660.8,528.7 661.7,528.1 662.5,526.2 663.5,525.5 664.5,525.0 665.6,526.2 666.8,528.8 667.6,529.0 668.4,531.5 669.2,531.3 670.0,532.0 671.0,536.2 672.0,540.0 673.0,552.5 673.8,551.1 674.7,549.7 675.5,547.5 676.5,546.4 677.5,546.0 678.5,543.8 679.3,544.1 680.1,540.7 680.9,542.7 681.8,542.5 682.6,545.7 683.4,542.7 684.2,544.5 685.5,530.0 686.5,527.6 687.5,525.0 688.3,524.7 689.2,522.5 690.0,521.2 690.8,524.5 691.7,524.3 692.5,527.5 693.5,522.7 694.5,520.0 696.0,527.5 697.0,532.3 698.0,537.5 698.8,539.4 699.7,541.6 700.5,545.0 701.3,544.2 702.2,542.7 703.0,541.2 703.8,541.7 704.7,541.7 705.5,542.5 707.0,522.5 708.5,522.0 709.5,528.1 710.5,533.8 711.3,536.1 712.2,538.1 713.0,541.2 714.0,536.1 715.0,530.0 716.5,537.5 717.5,540.6 718.5,543.0 719.5,540.3 720.5,537.5 721.5,535.0 722.5,531.2 723.5,529.7 724.5,530.0 725.5,530.1 726.5,530.5 727.5,525.4 728.5,521.2 729.3,520.3 730.2,517.5 731.0,515.0 732.0,514.9 733.0,511.2 734.0,514.5 735.0,515.0 735.8,514.5 736.7,513.7 737.5,514.5 738.5,518.9 739.5,522.5 740.5,524.8 741.5,527.5 742.5,528.6 743.5,530.0 745.0,537.0 746.0,534.5 747.0,533.8 748.0,535.1 749.0,535.5 750.0,534.2 751.0,532.5 752.0,535.3 753.0,537.5 754.0,538.8 755.0,539.5 756.0,536.5 757.0,535.0 758.5,542.5 759.5,538.7 760.5,538.8 761.5,541.0 762.5,543.8 763.5,541.3 764.5,540.0 766.0,545.0 767.0,548.3 768.0,552.5 769.5,563.8 770.5,572.5 772.0,570.0 773.0,569.6 774.0,567.5 775.0,569.3 776.0,571.2 777.0,571.9 778.0,570.0 778.8,571.0 779.7,572.3 780.5,572.5 781.3,572.1 782.2,571.5 783.0,570.0 783.8,569.3 784.7,571.8 785.5,571.2 786.5,572.6 787.5,573.8 788.4,569.2 789.2,566.2 790.1,569.3 791.0,571.2 792.0,570.9 793.0,570.0 793.8,569.8 794.7,568.1 795.5,566.2 796.5,569.1 797.5,571.2 798.4,574.2 799.2,580.0 800.5,595.0 801.8,598.8 802.6,603.3 803.5,605.0 804.5,607.5 805.5,607.5 806.3,606.9 807.2,605.4 808.0,603.8 808.8,603.7 809.7,600.8 810.5,600.5 811.3,600.9 812.2,600.2 813.0,600.0 814.0,600.4 815.0,602.8 816.0,603.8 816.8,605.0 817.6,607.1 818.4,607.4 819.2,607.5 820.1,604.9 820.9,603.3 821.8,603.8 822.6,602.3 823.4,600.7 824.2,599.5 825.1,600.2 826.0,602.5 827.0,603.8 828.0,607.5 828.8,605.7 829.7,603.2 830.5,602.5 831.5,600.4 832.5,599.5 833.4,597.4 834.2,593.8 835.0,592.5 836.0,593.5 837.0,593.5 838.0,595.0 838.8,594.9 839.7,596.5 840.5,599.0 841.3,597.9 842.2,600.6 843.0,600.0 843.8,598.1 844.7,597.3 845.5,596.8 846.3,594.3 847.2,593.8 848.0,592.5 848.8,592.5 849.7,595.3 850.5,596.8 851.3,596.4 852.2,598.2 853.0,598.8 853.8,598.4 854.7,603.7 855.5,602.5 856.3,602.2 857.2,601.5 858.0,600.3 858.8,599.3 859.7,600.3 860.5,595.9 861.3,596.4 862.2,595.5 863.0,595.0 863.8,595.7 864.7,597.3 865.5,596.9 866.3,597.2 867.2,598.2 868.0,600.4 868.8,601.6 869.7,602.4 870.5,603.9 871.3,602.9 872.2,605.0 873.0,605.0 873.8,605.2 874.7,604.0 875.5,603.1 876.3,604.1 877.2,602.3 878.0,602.2 878.8,601.3 879.7,603.2 880.5,601.2 881.3,600.4 882.2,600.2 883.0,600.0 883.8,600.4 884.7,601.3 885.5,600.4 886.3,601.5 887.2,603.6 888.0,604.7 888.8,603.5 889.7,605.1 890.5,605.1 891.3,604.3 892.2,606.6 893.0,607.5 893.8,606.2 894.7,607.4 895.5,606.1 896.3,605.8 897.2,604.2 898.0,605.1 898.8,602.9 899.7,604.4 900.5,604.9 901.3,602.3 902.2,603.6 903.0,602.5 903.8,604.3 904.7,603.6 905.5,605.3 906.3,605.1 907.2,605.2 908.0,604.5 908.8,606.0 909.7,606.2 910.5,610.1 911.3,609.0 912.2,609.2 913.0,610.0 913.8,608.3 914.7,610.4 915.5,607.4 916.3,609.2 917.2,608.3 918.0,606.9 918.8,605.8 919.7,605.8 920.5,604.2 921.3,605.3 922.2,605.7 923.0,603.8 923.8,605.0 924.7,605.6 925.5,604.7 926.3,606.0 927.2,605.4 928.0,606.4 928.8,607.9 929.7,609.9 930.5,608.3 931.3,608.8 932.2,607.6 933.0,609.9 933.8,609.5 934.7,609.6 935.5,611.2 936.3,609.6 937.2,610.5 938.0,609.7 938.8,610.2 939.7,609.0 940.5,608.7 941.3,609.6 942.2,608.6 943.0,608.2 943.8,608.3 944.7,606.9 945.5,605.4 946.3,605.2 947.2,604.1 948.0,605.0 948.8,605.8 949.7,605.7 950.5,606.9 951.3,607.7 952.2,606.8 953.0,608.2 953.8,609.6 954.7,609.1 955.5,610.3 956.3,609.8 957.2,609.7 958.0,610.8 958.8,609.9 959.7,612.6 960.5,612.5 961.3,611.6 962.2,612.8 963.0,610.2 963.8,610.9 964.7,610.7 965.5,609.8 966.3,609.9 967.2,608.5 968.0,607.8 968.8,607.1 969.7,607.4 970.5,606.8 971.3,607.3 972.2,606.4 973.0,606.2 973.8,605.9 974.7,606.1 975.5,605.4 976.3,606.9 977.2,607.9 978.0,606.6 978.8,607.8 979.7,608.8 980.5,607.9 981.3,608.9 982.2,608.6 983.0,611.4 983.8,610.7 984.7,610.8 985.5,610.0 986.3,608.9 987.2,609.6 988.0,608.4 988.8,608.3 989.7,607.0 990.5,607.1 991.3,605.8 992.2,606.3 993.0,607.0 993.8,603.8 994.7,603.4 995.5,604.4 996.3,604.2 997.2,602.7 998.0,602.5 998.8,603.3 999.7,603.5 1000.5,604.0 1001.3,605.0 1002.2,603.6 1003.0,605.1 1003.8,605.0 1004.7,604.6 1005.5,605.9 1006.3,604.7 1007.2,604.9 1008.0,607.4 1008.8,605.9 1009.7,608.6 1010.5,607.5 1011.3,607.9 1012.2,606.0 1013.0,605.2 1013.8,603.6 1014.7,604.9 1015.5,603.1 1016.3,605.4 1017.2,602.0 1018.0,603.1 1018.8,600.1 1019.7,601.7 1020.5,602.6 1021.3,600.6 1022.2,599.8 1023.0,600.0 1023.8,599.9 1024.7,601.0 1025.5,601.8 1026.3,601.1 1027.2,599.9 1028.0,602.3 1028.8,603.2 1029.7,604.7 1030.5,603.1 1031.3,603.5 1032.2,603.2 1033.0,604.6 1033.8,605.9 1034.7,603.8 1035.5,605.0 1036.3,604.4 1037.2,602.8 1038.0,602.4 1038.8,602.2 1039.7,602.1 1040.5,600.3 1041.3,600.1 1042.2,600.8 1043.0,599.4 1043.8,598.9 1044.7,598.0 1045.5,596.8 1046.3,596.7 1047.2,596.1 1048.0,595.0 1048.8,595.3 1049.7,596.6 1050.5,596.0 1051.3,597.1 1052.2,596.7 1053.0,597.6 1053.8,596.7 1054.7,597.2 1055.5,597.0 1056.3,599.4 1057.2,599.1 1058.0,599.2 1058.8,599.9 1059.7,598.9 1060.5,600.0 1061.3,599.6 1062.2,598.6 1063.0,596.9 1063.8,597.8 1064.7,596.7 1065.5,598.2 1066.3,595.8 1067.2,595.5 1068.0,596.3 1068.8,595.0 1069.7,593.3 1070.5,594.2 1071.3,592.8 1072.2,594.5 1073.0,592.5 1073.8,591.8 1074.7,592.3 1075.5,590.9 1076.3,592.9 1077.2,595.4 1078.0,593.9 1078.8,593.4 1079.7,594.7 1080.5,594.5 1081.3,595.0 1082.2,597.4 1083.0,597.2 1083.8,597.1 1084.7,597.4 1085.5,596.2 1086.3,594.9 1087.2,593.4 1088.0,595.1 1088.8,594.3 1089.7,593.4 1090.5,592.6 1091.3,592.8 1092.2,592.1 1093.0,591.2 1093.8,590.8 1094.7,589.7 1095.5,588.9 1096.3,589.9 1097.2,587.9 1098.0,587.5 1098.8,589.6 1099.7,588.7 1100.5,588.6 1101.3,589.8 1102.2,588.7 1103.0,589.3 1103.8,589.5 1104.7,590.2 1105.5,591.1 1106.3,592.6 1107.2,591.6 1108.0,590.6 1108.8,591.1 1109.7,590.6 1110.5,592.5 1111.3,592.6 1112.2,592.3 1113.0,591.3 1113.8,590.8 1114.7,590.5 1115.5,589.9 1116.3,589.6 1117.2,588.7 1118.0,587.1 1118.8,588.3 1119.7,588.2 1120.5,585.1 1121.3,585.8 1122.2,584.5 1123.0,585.0 1123.8,585.8 1124.7,585.4 1125.5,587.2 1126.3,587.3 1127.2,586.3 1128.0,586.6 1128.8,586.8 1129.7,588.2 1130.5,587.2 1131.3,588.7 1132.2,587.4 1133.0,589.9 1133.8,589.7 1134.7,588.7 1135.5,590.0 1136.3,588.6 1137.2,588.8 1138.0,588.2 1138.8,584.8 1139.7,586.8 1140.5,587.3 1141.3,584.9 1142.2,583.5 1143.0,585.1 1143.8,583.5 1144.7,582.8 1145.5,582.5 1146.3,580.3 1147.2,580.1 1148.0,580.0 1148.8,579.3 1149.7,579.5 1150.5,580.5 1151.3,580.1 1152.2,582.6 1153.0,581.9 1153.8,582.5 1154.7,580.6 1155.5,582.1 1156.3,582.4 1157.2,582.9 1158.0,583.4 1158.8,582.5 1159.7,582.7 1160.5,583.8 1161.3,584.0 1162.2,584.5 1163.0,583.8 1163.8,581.2 1164.7,580.1 1165.5,580.4 1166.3,580.1 1167.2,580.6 1168.0,578.3 1168.8,577.3 1169.7,578.2 1170.5,576.1 1171.3,575.4 1172.2,576.0 1173.0,575.0 1173.8,575.1 1174.6,574.7 1175.4,575.7 1176.2,575.9 1177.1,576.4 1177.9,576.2 1178.7,577.7 1179.5,577.2 1180.3,577.3 1181.1,579.0 1181.9,577.6 1182.8,579.4 1183.6,579.6 1184.4,579.1 1185.2,579.9 1186.0,580.0 1186.0,580.0 1186.8,578.4 1187.7,579.7 1188.5,578.3 1189.3,578.1 1190.2,578.8 1191.0,577.7 1191.8,578.2 1192.7,578.1 1193.5,578.4 1194.3,577.6 1195.2,577.8 1196.0,576.0 1196.8,576.1 1197.7,576.7 1198.5,576.9 1199.3,575.9 1200.2,574.8 1201.0,575.0 1201.8,573.9 1202.7,573.9 1203.5,575.5 1204.3,573.6 1205.2,574.1 1206.0,574.7 1206.8,574.4 1207.7,573.3 1208.5,575.5 1209.3,573.7 1210.2,573.7 1211.0,574.0 1211.8,572.9 1212.7,573.6 1213.5,572.8 1214.3,572.0 1215.2,571.8 1216.0,572.5 1216.8,572.4 1217.7,571.7 1218.5,571.1 1219.3,570.4 1220.2,570.2 1221.0,570.7 1221.8,570.5 1222.7,568.9 1223.5,569.0 1224.3,566.7 1225.2,566.9 1226.0,566.9 1226.8,566.3 1227.7,567.3 1228.5,564.5 1229.3,566.3 1230.2,566.0 1231.0,565.0 1231.8,566.6 1232.7,564.0 1233.5,564.6 1234.3,565.2 1235.2,564.4 1236.0,562.5 1236.8,562.7 1237.7,561.8 1238.5,562.6 1239.3,562.8 1240.2,563.1 1241.0,562.1 1241.8,562.2 1242.7,562.0 1243.5,560.1 1244.3,561.1 1245.2,561.1 1246.0,560.0 1246.8,559.2 1247.7,557.8 1248.5,558.1 1249.3,557.5 1250.2,557.3 1251.0,554.5 1251.8,555.0 1252.7,556.4 1253.5,555.1 1254.3,553.2 1255.2,552.4 1256.0,551.8 1256.8,550.5 1257.7,550.3 1258.5,550.0 1259.4,549.6 1260.3,548.3 1261.2,548.9 1262.1,548.8 1263.0,547.1 1263.9,547.5 1264.8,547.5 1265.6,545.5 1266.4,546.2 1267.2,545.5 1268.1,545.4 1268.9,544.4 1269.8,544.5 1270.6,546.1 1271.5,547.5 1272.5,547.3 1273.5,546.2 1274.3,546.6 1275.2,544.6 1276.0,545.5 1276.8,544.9 1277.7,543.6 1278.5,544.5 1279.3,543.1 1280.2,545.7 1281.0,545.0 1281.8,545.2 1282.7,545.2 1283.5,543.8 1284.5,540.7 1285.5,536.2 1287.0,527.5 1288.0,522.5 1288.9,522.7 1289.8,523.8 1290.6,523.6 1291.5,523.0 1293.0,532.0 1293.8,531.0 1294.7,532.2 1295.5,530.5 1296.4,527.2 1297.2,528.0 1298.1,530.3 1299.0,532.0 1300.0,529.3 1301.0,527.5 1302.0,526.2 1303.0,523.8 1303.8,525.2 1304.7,524.0 1305.5,525.0 1306.5,527.7 1307.5,528.0 1308.5,529.7 1309.5,529.5 1311.0,530.5 1312.0,524.5 1313.0,521.2 1314.5,527.5 1316.0,523.8 1317.0,520.7 1318.0,514.5 1319.0,512.7 1320.0,513.0 1321.5,517.0 1323.0,528.8 1323.9,528.5 1324.8,530.5 1325.6,529.6 1326.5,527.0 1328.0,531.2 1329.0,531.3 1330.0,532.5 1331.5,538.0 1332.5,537.7 1333.5,537.0 1335.0,531.2 1336.0,529.1 1337.0,527.0 1338.0,525.8 1339.0,526.2 1340.0,528.5 1341.0,528.0 1342.0,528.8 1343.0,527.0 1344.0,527.1 1345.0,527.0 1346.0,523.0 1347.0,516.2 1348.0,511.9 1349.0,507.5 1350.0,504.6 1351.0,501.2 1352.0,498.1 1353.0,495.5 1353.8,494.2 1354.7,494.9 1355.5,495.0 1356.5,494.8 1357.5,496.2 1358.5,498.5 1359.5,500.0 1360.5,497.6 1361.5,495.0 1362.5,484.5 1363.5,475.0 1364.5,460.0 1365.5,461.7 1366.5,461.2 1367.5,457.8 1368.5,453.8 1369.2,440.0 1370.5,450.0 1371.4,447.2 1372.2,441.2 1373.1,437.2 1374.0,433.8 1375.0,429.7 1376.0,426.2 1377.5,423.0 1379.0,431.2 1380.0,450.0 1381.5,441.2 1383.0,461.2 1384.5,443.8 1386.0,455.0 1387.5,437.5 1388.6,435.6 1389.8,435.0 1390.6,433.7 1391.5,432.0 1392.5,430.9 1393.5,430.0 1395.0,437.5 1396.0,448.8 1397.5,440.0 1398.5,439.4 1399.5,438.8 1400.5,435.6 1401.5,429.5 1402.5,432.3 1403.5,433.8 1405.0,450.0 1406.5,453.8 1408.0,456.2 1409.2,463.8 1410.1,457.0 1411.0,451.2 1411.8,449.5 1412.7,446.9 1413.5,445.0 1414.5,448.5 1415.5,452.5 1416.3,453.0 1417.2,453.9 1418.0,454.5 1419.0,456.5 1420.0,457.5 1421.2,473.8 1422.1,467.1 1423.0,458.8 1423.9,456.7 1424.8,454.5 1425.6,457.2 1426.5,461.2 1427.5,463.1 1428.5,465.0 1429.5,464.2 1430.5,463.8 1431.4,462.3 1432.2,461.2 1433.1,454.0 1434.0,448.8 1435.0,447.4 1436.0,446.2 1437.5,441.2 1439.0,429.5 1440.5,438.8 1441.5,437.8 1442.5,440.0 1443.5,439.8 1444.5,437.5 1445.5,440.0 1446.5,441.2 1447.5,442.3 1448.5,442.0 1449.5,439.6 1450.5,438.8 1452.0,432.5 1453.5,430.0 1454.5,433.3 1455.5,436.2 1456.5,439.8 1457.5,441.2 1458.5,442.9 1459.5,445.0 1460.5,445.3 1461.5,447.5 1462.5,448.4 1463.5,449.5 1464.5,449.3 1465.5,453.0 1466.5,455.4 1467.5,456.2 1468.5,459.7 1469.5,462.5 1471.0,467.5 1472.0,464.5 1473.0,463.8 1473.9,465.2 1474.8,465.5 1475.6,463.1 1476.5,458.8 1478.0,464.5 1479.5,477.5 1480.3,479.5 1481.2,481.1 1482.0,482.0 1483.0,480.4 1484.0,476.2 1485.0,475.8 1486.0,475.0 1487.5,465.0 1489.0,452.5 1490.0,452.4 1491.0,450.0 1492.0,447.1 1493.0,444.5 1494.0,441.9 1495.0,440.5 1496.0,444.4 1497.0,448.8 1498.0,444.1 1499.0,441.2 1500.0,441.0 1501.0,440.0 1502.0,443.8 1503.0,448.8 1504.0,450.9 1505.0,452.5 1506.5,470.0 1508.0,488.8 1509.5,482.5 1510.5,462.5 1511.4,465.3 1512.2,467.5 1513.1,471.4 1514.0,472.5 1515.0,471.5 1516.0,467.5 1517.5,476.2 1518.5,473.9 1519.5,472.5 1520.5,471.7 1521.5,471.2 1522.5,468.2 1523.5,465.5 1524.8,454.5 1525.6,453.6 1526.5,453.8 1528.0,468.8 1529.0,471.5 1530.0,471.2 1531.0,474.2 1532.0,475.0 1533.5,471.2 1534.5,474.2 1535.5,477.5 1537.0,488.8 1538.5,487.5 1540.0,476.2 1541.0,473.8 1542.0,473.8 1543.0,469.5 1544.0,466.2 1545.0,468.8 1546.0,471.2 1547.5,460.0 1548.5,460.1 1549.5,457.5 1550.5,455.4 1551.5,455.5 1552.5,456.2 1553.5,454.5 1554.5,450.4 1555.5,448.8 1556.5,449.0 1557.5,448.8 1559.0,465.0 1560.0,464.3 1561.0,465.5 1562.0,462.1 1563.0,459.5 1564.0,458.0 1565.0,460.5 1566.0,464.3 1567.0,467.0 1568.5,460.0 1569.5,455.7 1570.5,451.2 1571.5,446.6 1572.5,443.8 1573.5,440.1 1574.5,440.0 1575.5,438.7 1576.5,437.5 1577.5,441.0 1578.5,444.5 1579.5,443.8 1580.5,445.5 1581.5,444.4 1582.5,442.5 1584.0,427.5 1585.5,425.0 1586.5,429.9 1587.5,435.0 1588.5,436.1 1589.5,438.5 1590.5,441.2 1591.5,417.5 1592.5,412.3 1593.5,411.2 1595.0,400.0 1596.0,372.5 1597.5,367.5 1598.5,373.8 1600.0,363.8 1601.5,362.5 1603.0,357.5 1604.5,342.5 1606.0,335.0 1607.5,340.0 1609.0,345.0 1610.0,357.5 1611.5,343.8 1612.5,343.1 1613.5,341.2 1615.0,343.8 1616.5,338.8 1617.5,338.3 1618.5,336.2 1619.5,332.3 1620.5,328.8 1622.0,341.2 1623.5,327.5 1624.5,325.8 1625.5,326.2 1627.0,315.0 1628.0,311.2 1629.5,325.0 1631.0,337.5 1632.0,338.4 1633.0,341.2 1634.5,346.2 1636.0,334.5 1637.5,348.8 1638.5,349.1 1639.5,350.0 1641.0,355.5 1642.0,352.0 1643.0,350.0 1644.5,338.8 1646.0,335.0 1647.0,325.0 1648.0,345.0 1648.9,350.5 1649.8,355.5 1650.6,352.0 1651.5,350.0 1652.5,350.1 1653.5,348.8 1655.0,336.2 1656.5,325.0 1658.0,315.0 1659.5,320.0 1660.5,311.2 1662.0,315.0 1663.5,321.2 1665.0,320.0 1666.5,326.2 1667.5,321.6 1668.5,315.0 1670.0,325.0 1671.5,336.2 1672.5,338.2 1673.5,341.2 1674.3,341.0 1675.2,339.6 1676.0,342.5 1676.8,341.7 1677.7,341.1 1678.5,340.0 1679.3,339.6 1680.2,341.8 1681.0,341.2 1681.8,341.8 1682.7,342.4 1683.5,344.5 1684.5,344.2 1685.5,342.5 1686.5,340.4 1687.5,337.5 1688.5,338.9 1689.5,343.8 1691.0,360.0 1692.5,383.8 1693.3,382.9 1694.2,382.1 1695.0,383.0 1696.5,351.2 1697.5,376.2 1699.0,363.8 1700.5,372.5 1702.0,385.0 1703.5,403.8 1705.0,390.0 1706.0,388.6 1707.0,387.5 1708.0,387.0 1709.0,386.2 1710.0,386.7 1711.0,388.0 1712.5,377.0 1714.0,387.5 1715.0,382.0 1716.0,376.2 1716.8,376.6 1717.7,375.1 1718.5,375.0 1719.5,374.5 1720.5,376.2 1722.0,387.5 1723.0,387.3 1724.0,388.8 1725.2,390.0 1726.8,387.0 1728.0,404.0 1729.2,406.0 1730.0,411.6 1731.2,391.0 1732.0,398.0 1733.2,383.0 1734.4,387.0 1736.0,384.4 1737.0,384.7 1738.0,383.6 1739.0,382.8 1740.0,379.0 1741.2,368.0 1742.0,360.0 1742.8,354.0 1743.6,352.3 1744.4,351.0 1746.0,351.6 1747.0,350.9 1748.0,349.6 1749.6,348.0 1750.4,345.3 1751.2,344.0 1752.0,341.6 1753.2,347.0 1754.4,350.0 1755.6,339.0 1756.8,326.0 1758.0,316.0 1759.2,315.0 1760.8,318.0 1761.6,318.0 1762.4,319.0 1764.0,317.0 1765.2,318.0 1766.4,309.0 1767.6,310.0 1768.8,299.0 1769.6,292.0 1770.4,305.0 1772.0,299.0 1773.6,299.0 1774.8,303.0 1776.0,314.0 1777.2,317.0 1778.4,313.0 1780.0,311.0 1781.2,316.0 1782.4,325.6 1783.6,312.0 1784.8,301.0 1786.0,296.4 1787.2,298.0 1788.4,307.0 1789.6,312.0 1790.8,309.0 1791.6,311.1 1792.4,311.6 1794.0,316.0 1795.6,320.0 1796.8,325.6 1797.6,327.6 1798.8,316.0 1800.0,309.0 1801.2,307.0 1802.4,308.4 1803.6,303.6 1804.8,310.0 1806.0,305.0 1807.2,300.0 1808.4,303.0 1809.6,299.0 1810.4,299.1 1811.2,300.0 1812.4,292.0 1813.2,276.0 1814.4,269.0 1816.0,265.0 1817.2,263.0 1818.4,268.0 1819.6,265.6 1820.8,270.0 1821.6,268.6 1822.4,267.0 1824.0,262.4 1825.2,264.0 1826.4,270.0 1828.0,269.0 1829.6,265.6 1830.8,270.0 1832.0,271.0 1833.2,280.0 1834.4,288.0 1835.6,284.0 1836.8,279.0 1838.0,276.0 1839.2,272.0 1840.4,267.0 1842.0,266.0 1843.2,264.0 1844.4,251.0 1845.2,267.0 1846.4,271.0 1848.0,271.6 1849.2,278.0 1850.4,286.0 1851.6,282.0 1852.8,274.0 1854.0,284.0 1855.2,296.0 1856.0,288.0 1857.2,289.0 1858.4,298.0 1859.6,301.6 1860.4,301.9 1861.2,302.0 1862.4,294.0 1863.6,291.0 1864.8,296.0 1865.6,296.5 1866.4,295.0 1868.0,290.0 1869.6,284.0 1870.4,280.7 1871.2,277.0 1872.8,275.6 1873.6,274.9 1874.4,274.4 1876.0,273.0 1877.6,275.0 1878.8,279.0 1880.0,285.0 1881.2,290.0 1882.4,288.0 1883.6,299.0 1884.4,295.2 1885.2,292.0 1886.4,284.0 1887.6,282.4 1888.8,266.0 1890.0,256.0 1891.6,251.0 1893.0,247.0 1894.4,253.0 1895.6,255.0 1896.4,270.0 1897.2,292.0 1898.4,281.0 1899.6,285.0 1900.8,294.0 1902.0,304.0 1903.2,307.6 1904.8,298.0 1906.0,302.0 1907.2,297.0 1908.8,290.0 1909.6,286.5 1910.4,284.0 1911.6,281.6 1912.4,285.2 1913.2,287.0 1914.4,302.0 1916.0,297.0 1917.6,296.0 1918.8,318.0 1920.0,325.0 1921.6,320.0 1922.8,318.0 1924.0,312.0 1925.2,311.0 1926.0,320.0 1927.2,330.0 1928.4,348.0 1930.0,349.0 1931.2,358.0 1932.4,360.0 1933.6,374.0 1934.8,382.0 1936.0,383.0 1937.2,374.0 1938.4,366.0 1939.6,362.0 1940.8,363.0 1942.0,368.0 1943.2,377.0 1944.4,362.0 1945.6,354.0 1946.8,367.0 1948.0,366.0 1949.6,362.0 1950.4,361.3 1951.2,357.0 1952.8,358.0 1954.0,364.0 1955.6,370.0 1956.8,377.0 1958.0,374.0 1959.2,380.0 1960.4,372.4 1962.0,371.0 1963.6,374.0 1964.4,372.1 1965.2,373.0 1966.8,374.4 1967.6,374.3 1968.4,372.4 1970.0,373.6 1971.6,368.0 1972.8,362.4 1974.0,358.0 1975.2,353.0 1976.4,360.0 1978.0,362.4 1979.6,363.0 1980.4,361.1 1981.2,361.0 1982.0,350.0 1983.2,342.4 1984.4,347.0 1986.0,349.0 1987.2,354.0 1988.4,368.0 1989.6,367.0 1990.8,369.0 1992.0,367.0 1993.2,377.0 1994.4,371.0 1995.6,377.6 1996.8,384.0 1998.0,388.0 1998.8,391.6 1998.8,391.6 1999.6,408.0 2000.8,400.0 2001.6,416.0 2002.4,428.0 2002.8,460.0 2003.6,434.0 2004.8,432.4 2005.6,433.5 2006.4,435.6 2008.0,442.0 2009.2,446.0 2010.4,435.0 2011.6,434.0 2012.8,439.0 2013.6,440.7 2014.4,443.0 2015.6,445.6 2016.8,440.0 2018.0,442.4 2019.2,451.0 2020.0,454.4 2021.2,442.0 2022.4,444.0 2023.6,447.0 2024.8,448.0 2026.0,438.4"/>
<circle cx="802.6" cy="530.4" r="2.5" fill="#2fb56f"/>
<circle cx="802.6" cy="598" r="2.5" fill="#e0ab3d"/>
<path d="M122 801.7 L122.0 747.0 L203.8 747.0 L205.0 723.8 L208.8 724.5 L215.0 725.5 L220.0 728.0 L226.2 731.5 L232.5 732.5 L240.0 734.5 L250.0 736.2 L260.0 737.5 L270.0 738.5 L280.0 739.2 L290.0 739.5 L291.5 724.2 L296.2 726.0 L298.1 726.4 L300.0 727.3 L301.9 726.7 L303.8 727.5 L305.8 728.6 L307.9 728.7 L310.0 729.5 L312.1 729.9 L314.2 731.4 L316.2 731.0 L318.3 730.3 L320.4 729.5 L322.5 728.8 L324.2 728.8 L325.8 728.8 L327.5 728.0 L329.4 728.7 L331.2 729.5 L332.9 730.6 L334.6 730.7 L336.2 732.0 L338.3 731.5 L340.4 731.1 L342.5 731.0 L344.2 730.2 L345.8 730.0 L347.5 730.5 L349.4 729.1 L351.2 729.1 L353.1 728.5 L355.0 728.0 L356.7 728.4 L358.3 729.0 L360.0 729.5 L362.1 729.7 L364.2 731.1 L366.2 732.0 L368.2 732.6 L370.1 733.3 L372.0 733.5 L373.8 731.5 L375.7 730.2 L377.5 728.8 L379.6 727.6 L381.7 728.0 L383.8 728.0 L385.8 726.7 L387.9 726.7 L390.0 727.0 L391.9 730.2 L393.8 732.5 L395.8 732.8 L397.9 735.4 L400.0 736.2 L402.1 736.6 L404.2 736.6 L406.2 737.0 L408.8 749.5 L410.5 740.0 L413.0 738.0 L415.5 743.8 L418.0 744.5 L420.0 755.5 L422.5 748.8 L425.5 751.2 L427.1 755.2 L428.8 758.8 L430.5 762.5 L431.8 783.8 L433.8 765.5 L436.2 766.2 L439.0 782.0 L440.8 775.0 L442.5 767.5 L444.4 764.8 L446.2 761.2 L448.1 758.0 L450.0 755.0 L451.9 751.0 L453.8 747.5 L455.8 740.0 L458.8 743.8 L461.2 744.5 L463.8 745.5 L466.2 746.2 L468.8 750.5 L470.4 749.4 L472.0 748.8 L475.0 746.2 L476.9 746.7 L478.8 748.0 L480.6 747.5 L482.5 747.0 L484.2 746.4 L485.8 747.0 L487.5 746.2 L489.2 745.4 L490.8 745.8 L492.5 746.2 L494.2 745.6 L495.8 744.8 L497.5 745.5 L499.6 745.4 L501.7 742.4 L503.8 742.5 L505.6 741.4 L507.5 740.5 L509.2 739.7 L510.8 740.1 L512.5 738.8 L514.2 737.0 L515.8 737.6 L517.5 736.2 L519.2 735.3 L520.8 735.0 L522.5 734.5 L524.5 737.5 L526.3 737.0 L528.2 737.5 L530.0 737.0 L531.7 736.2 L533.3 736.5 L535.0 736.2 L536.7 736.7 L538.3 737.6 L540.0 737.0 L542.1 736.7 L544.2 739.2 L546.2 739.2 L548.3 739.3 L550.4 738.2 L552.5 738.0 L554.6 737.8 L556.7 737.1 L558.8 737.0 L560.8 737.9 L562.9 737.4 L565.0 737.5 L566.9 736.7 L568.8 735.9 L570.6 735.2 L572.5 734.5 L574.4 733.8 L576.2 732.9 L578.1 733.6 L580.0 732.0 L581.9 730.8 L583.8 729.6 L585.6 730.8 L587.5 730.5 L589.6 729.7 L591.7 729.2 L593.8 728.2 L596.2 732.5 L598.8 731.2 L601.2 734.2 L602.9 733.7 L604.6 733.4 L606.2 733.0 L607.9 733.1 L609.6 733.4 L611.2 733.0 L612.9 733.7 L614.6 734.7 L616.2 735.8 L618.1 737.5 L620.0 737.5 L621.5 742.0 L623.0 737.5 L625.2 737.4 L627.5 736.8 L629.2 736.0 L630.8 737.1 L632.5 735.8 L634.2 735.5 L635.8 734.3 L637.5 734.0 L639.2 733.4 L640.8 734.0 L642.5 733.8 L644.3 733.5 L646.2 733.6 L648.0 734.2 L649.7 732.9 L651.3 732.5 L653.0 732.0 L654.7 731.8 L656.3 730.5 L658.0 730.0 L659.8 728.5 L661.7 728.6 L663.5 727.5 L665.8 728.5 L668.0 729.5 L669.9 732.4 L671.8 734.5 L673.6 733.8 L675.5 732.0 L677.6 731.8 L679.7 731.8 L681.8 731.8 L683.8 732.5 L685.9 732.7 L688.0 734.0 L690.1 735.1 L692.2 736.1 L694.2 736.2 L695.9 736.6 L697.6 736.6 L699.2 737.0 L700.9 738.3 L702.6 739.5 L704.2 741.2 L706.1 740.0 L708.0 739.5 L709.9 740.2 L711.8 741.2 L713.4 740.5 L715.1 740.2 L716.8 740.0 L718.4 738.3 L720.1 738.2 L721.8 737.0 L723.8 737.2 L725.9 736.8 L728.0 737.5 L730.1 736.5 L732.2 737.5 L734.2 737.5 L736.1 738.2 L738.0 737.5 L739.9 737.8 L741.8 738.2 L743.4 738.6 L745.1 739.7 L746.8 740.0 L748.8 740.0 L750.9 741.3 L753.0 741.2 L754.9 742.7 L756.8 744.5 L759.8 748.2 L761.4 746.8 L763.0 744.5 L764.9 745.8 L766.8 747.0 L768.4 745.8 L770.1 744.2 L771.8 743.8 L773.6 744.1 L775.5 745.0 L777.2 745.0 L778.8 745.6 L780.5 745.5 L782.4 746.6 L784.2 747.5 L786.1 747.8 L788.0 748.8 L790.0 751.2 L791.5 760.0 L793.0 752.5 L795.5 756.2 L797.2 755.4 L798.8 754.5 L800.5 753.0 L802.2 751.8 L803.8 750.5 L805.5 749.5 L807.2 749.9 L808.8 751.0 L810.5 751.2 L812.2 752.1 L813.8 752.0 L815.5 753.0 L817.4 753.8 L819.2 754.2 L820.9 753.6 L822.6 753.1 L824.2 753.0 L825.9 753.4 L827.6 753.0 L829.2 752.5 L830.9 752.4 L832.6 753.0 L834.2 753.2 L835.9 752.4 L837.6 750.8 L839.2 750.0 L841.3 749.1 L843.4 748.6 L845.5 747.5 L847.6 746.7 L849.7 747.6 L851.8 747.5 L853.6 749.1 L855.5 750.0 L857.4 751.9 L859.2 753.2 L861.3 752.2 L863.4 752.6 L865.5 752.0 L867.6 751.4 L869.7 751.8 L871.8 751.2 L873.4 750.3 L875.1 748.8 L876.8 747.5 L878.4 743.7 L880.0 740.5 L882.1 742.5 L884.2 745.0 L885.9 743.9 L887.6 741.6 L889.2 740.5 L890.9 740.4 L892.6 740.1 L894.2 739.5 L895.9 739.4 L897.6 740.6 L899.2 739.5 L900.9 740.5 L902.6 742.5 L904.2 742.5 L905.9 741.6 L907.6 741.5 L909.2 742.5 L910.9 742.1 L912.6 741.1 L914.2 740.0 L916.3 740.3 L918.4 740.8 L920.5 741.2 L922.4 740.3 L924.2 740.7 L926.1 740.4 L928.0 740.8 L929.9 740.5 L931.8 740.8 L933.6 740.2 L935.5 740.0 L937.6 740.2 L939.7 739.7 L941.8 740.0 L943.6 738.3 L945.5 737.0 L947.2 736.6 L948.8 736.0 L950.5 735.8 L952.6 736.7 L954.7 736.2 L956.8 737.0 L958.8 738.0 L960.9 736.9 L963.0 737.5 L965.1 738.5 L967.2 738.2 L969.2 739.0 L971.3 739.5 L973.4 738.6 L975.5 738.2 L977.4 738.4 L979.2 738.5 L981.1 737.8 L983.0 738.0 L984.9 737.3 L986.8 736.6 L988.6 737.8 L990.5 737.0 L992.4 736.6 L994.2 736.6 L996.1 736.8 L998.0 736.8 L999.9 737.2 L1001.8 735.1 L1003.6 735.5 L1005.5 735.0 L1007.4 734.4 L1009.2 734.2 L1011.1 735.7 L1013.0 736.8 L1014.7 735.4 L1016.3 735.4 L1018.0 735.0 L1020.1 735.0 L1022.2 734.9 L1024.2 733.8 L1025.9 734.2 L1027.6 732.9 L1029.2 733.0 L1031.3 733.7 L1033.4 734.3 L1035.5 735.0 L1037.6 734.1 L1039.7 733.9 L1041.8 734.2 L1043.8 734.0 L1045.9 733.2 L1048.0 732.5 L1050.1 732.0 L1052.2 732.2 L1054.2 731.2 L1056.1 730.4 L1058.0 730.5 L1059.7 731.2 L1061.3 731.5 L1063.0 732.0 L1064.7 732.6 L1066.3 733.4 L1068.0 733.8 L1069.7 733.2 L1071.3 732.5 L1073.0 731.8 L1075.1 731.7 L1077.2 732.3 L1079.2 731.2 L1081.3 731.5 L1083.4 732.5 L1085.5 732.5 L1087.6 733.0 L1089.7 732.8 L1091.8 733.2 L1093.8 733.0 L1095.9 731.7 L1098.0 731.5 L1100.1 732.1 L1102.2 731.3 L1104.2 731.8 L1105.9 731.1 L1107.6 731.1 L1109.2 730.5 L1111.1 730.2 L1113.0 729.2 L1114.9 730.7 L1116.8 731.2 L1118.4 731.7 L1120.1 731.2 L1121.8 731.2 L1123.6 732.4 L1125.5 734.5 L1127.4 735.4 L1129.2 735.8 L1130.5 741.2 L1133.0 737.0 L1134.9 736.4 L1136.8 735.5 L1138.4 735.9 L1140.1 737.6 L1141.8 738.0 L1143.8 739.4 L1145.9 740.2 L1148.0 742.0 L1149.7 740.9 L1151.3 738.7 L1153.0 738.0 L1154.7 737.4 L1156.3 737.8 L1158.0 737.5 L1159.7 737.5 L1161.3 738.9 L1163.0 739.5 L1165.1 739.9 L1167.2 741.8 L1169.2 742.5 L1171.3 742.3 L1173.4 742.9 L1175.5 743.0 L1177.2 741.7 L1178.8 741.7 L1180.5 741.2 L1183.0 738.8 L1186.0 740.0 L1187.7 740.4 L1189.3 740.2 L1191.0 740.0 L1192.7 739.8 L1194.3 741.7 L1196.0 742.0 L1197.7 742.2 L1199.3 741.3 L1201.0 741.2 L1202.7 742.1 L1204.3 741.1 L1206.0 741.8 L1207.7 741.5 L1209.3 741.9 L1211.0 741.2 L1212.7 742.1 L1214.3 742.3 L1216.0 742.0 L1218.0 746.2 L1219.8 751.2 L1221.5 752.5 L1223.5 756.2 L1226.0 751.2 L1228.0 753.0 L1231.0 750.0 L1232.9 751.0 L1234.8 753.0 L1236.4 752.6 L1238.1 754.0 L1239.8 754.2 L1241.4 752.9 L1243.1 752.7 L1244.8 752.0 L1246.4 750.9 L1248.1 751.5 L1249.8 750.5 L1251.4 750.5 L1253.1 750.1 L1254.8 749.5 L1256.6 748.5 L1258.5 747.5 L1260.0 744.5 L1261.8 744.1 L1263.5 743.8 L1265.2 742.8 L1266.8 742.3 L1268.5 741.2 L1270.4 739.5 L1272.2 737.5 L1274.1 737.5 L1276.0 737.0 L1277.9 736.1 L1279.8 735.5 L1281.4 735.6 L1283.1 734.1 L1284.8 733.2 L1286.6 734.8 L1288.5 735.0 L1290.2 735.8 L1291.8 734.9 L1293.5 735.5 L1295.4 734.5 L1297.2 735.0 L1299.1 736.4 L1301.0 736.8 L1302.7 736.5 L1304.3 736.6 L1306.0 736.5 L1307.7 736.9 L1309.3 737.6 L1311.0 738.0 L1312.9 738.2 L1314.8 739.5 L1316.6 739.7 L1318.5 740.0 L1320.4 738.8 L1322.2 738.0 L1324.1 738.4 L1326.0 738.8 L1327.9 738.9 L1329.8 741.2 L1331.6 742.0 L1333.5 742.0 L1335.4 742.6 L1337.2 743.0 L1339.1 741.3 L1341.0 741.2 L1342.7 740.3 L1344.3 740.1 L1346.0 739.5 L1347.7 739.3 L1349.3 738.5 L1351.0 738.0 L1352.7 738.5 L1354.3 737.7 L1356.0 737.5 L1357.7 737.5 L1359.3 738.0 L1361.0 738.8 L1363.0 740.0 L1364.2 750.0 L1366.0 744.5 L1367.7 744.4 L1369.3 743.4 L1371.0 743.2 L1372.9 743.0 L1374.8 742.0 L1377.2 739.5 L1379.1 739.2 L1381.0 738.0 L1382.7 738.3 L1384.3 738.5 L1386.0 738.0 L1387.7 737.8 L1389.3 737.7 L1391.0 737.5 L1392.9 737.5 L1394.8 737.9 L1396.6 737.7 L1398.5 738.8 L1400.6 738.1 L1402.7 737.4 L1404.8 737.5 L1406.8 736.4 L1408.9 736.7 L1411.0 736.2 L1412.9 736.8 L1414.8 736.7 L1416.6 737.8 L1418.5 737.5 L1420.4 737.8 L1422.2 737.7 L1424.1 736.9 L1426.0 737.0 L1427.9 735.8 L1429.8 736.3 L1431.6 735.6 L1433.5 735.0 L1435.4 734.9 L1437.2 734.3 L1439.1 734.3 L1441.0 733.2 L1442.9 732.8 L1444.8 732.9 L1446.6 731.9 L1448.5 732.0 L1450.6 730.5 L1452.7 730.8 L1454.8 730.5 L1456.8 731.6 L1458.9 730.6 L1461.0 731.8 L1463.1 731.6 L1465.2 730.3 L1467.2 730.0 L1469.3 730.1 L1471.4 730.5 L1473.5 730.8 L1475.4 730.8 L1477.2 730.2 L1479.1 730.6 L1481.0 730.5 L1482.9 731.0 L1484.8 731.5 L1486.6 731.1 L1488.5 731.8 L1490.2 733.1 L1491.8 733.9 L1493.5 733.8 L1495.2 735.7 L1496.8 734.8 L1498.5 736.2 L1500.2 736.2 L1501.8 735.1 L1503.5 735.8 L1505.2 736.5 L1506.8 737.2 L1508.5 737.5 L1510.2 737.4 L1511.8 737.6 L1513.5 738.8 L1515.2 738.0 L1516.8 737.4 L1518.5 736.2 L1520.2 735.3 L1521.8 735.0 L1523.5 734.5 L1525.6 733.1 L1527.7 733.7 L1529.8 733.8 L1531.8 733.6 L1533.9 733.5 L1536.0 733.2 L1538.1 733.5 L1540.2 731.9 L1542.2 732.0 L1544.3 731.2 L1546.4 732.5 L1548.5 732.5 L1550.6 732.9 L1552.7 734.0 L1554.8 734.5 L1556.8 735.2 L1558.9 735.4 L1561.0 735.5 L1563.1 736.8 L1565.2 737.4 L1567.2 737.5 L1568.9 737.2 L1570.6 738.3 L1572.2 738.8 L1573.9 739.2 L1575.6 737.7 L1577.2 737.5 L1578.9 738.2 L1580.6 738.0 L1582.2 738.2 L1584.3 737.8 L1586.4 738.5 L1588.5 737.5 L1590.6 738.0 L1592.7 737.4 L1594.8 737.5 L1596.4 738.3 L1598.1 737.7 L1599.8 738.8 L1601.4 739.3 L1603.1 740.8 L1604.8 741.2 L1606.8 741.7 L1608.9 741.6 L1611.0 742.5 L1613.5 748.8 L1615.4 749.6 L1617.2 750.0 L1618.9 749.3 L1620.6 748.9 L1622.2 747.5 L1623.9 747.5 L1625.6 746.5 L1627.2 746.2 L1628.9 745.8 L1630.6 745.7 L1632.2 745.5 L1634.1 747.0 L1636.0 748.8 L1637.7 749.0 L1639.3 748.6 L1641.0 747.5 L1642.9 749.4 L1644.8 750.0 L1646.4 750.0 L1648.1 749.6 L1649.8 749.5 L1651.6 749.7 L1653.5 749.0 L1655.4 749.0 L1657.2 748.8 L1659.8 753.0 L1662.2 753.8 L1663.9 752.4 L1665.6 752.4 L1667.2 752.0 L1668.9 752.8 L1670.6 751.9 L1672.2 752.5 L1674.4 751.2 L1676.5 751.2 L1678.1 748.1 L1679.8 745.0 L1681.4 745.6 L1683.1 745.3 L1684.8 744.5 L1686.4 744.5 L1688.1 744.6 L1689.8 745.0 L1691.4 744.8 L1693.1 744.2 L1694.8 744.5 L1697.2 741.2 L1699.1 740.6 L1701.0 740.0 L1702.7 739.6 L1704.3 738.8 L1706.0 739.2 L1707.7 739.4 L1709.3 740.0 L1711.0 740.5 L1713.1 740.2 L1715.2 740.2 L1717.2 740.8 L1718.9 741.3 L1720.6 741.9 L1722.3 741.0 L1724.0 741.2 L1725.9 740.1 L1727.8 739.2 L1729.4 739.6 L1731.1 739.3 L1732.8 739.5 L1734.4 739.3 L1736.1 740.5 L1737.8 740.0 L1739.4 739.5 L1741.1 739.7 L1742.8 740.0 L1745.2 742.5 L1746.9 742.2 L1748.6 742.1 L1750.2 742.5 L1752.3 742.2 L1754.4 742.4 L1756.5 742.0 L1758.2 742.4 L1759.8 741.8 L1761.5 741.2 L1763.2 740.2 L1764.8 738.5 L1766.5 738.0 L1768.2 737.8 L1769.8 737.2 L1771.5 737.5 L1773.2 737.0 L1774.8 737.1 L1776.5 736.2 L1778.2 736.2 L1779.8 735.8 L1781.5 735.8 L1783.2 735.2 L1784.8 735.2 L1786.5 735.0 L1788.2 735.7 L1789.8 735.9 L1791.5 737.0 L1793.2 736.5 L1794.8 736.9 L1796.5 736.2 L1798.2 734.7 L1799.8 734.4 L1801.5 733.8 L1803.2 732.8 L1804.8 733.6 L1806.5 732.5 L1808.2 733.0 L1809.8 733.2 L1811.5 733.2 L1813.6 733.8 L1815.7 734.0 L1817.8 734.2 L1819.8 734.6 L1821.9 734.0 L1824.0 735.0 L1825.7 734.9 L1827.3 734.9 L1829.0 734.5 L1830.7 733.8 L1832.3 734.7 L1834.0 734.2 L1835.7 735.1 L1837.3 734.6 L1839.0 735.8 L1840.7 735.9 L1842.3 736.3 L1844.0 736.8 L1845.7 735.9 L1847.3 735.8 L1849.0 735.0 L1850.9 735.4 L1852.8 737.0 L1854.4 736.8 L1856.1 736.9 L1857.8 736.8 L1859.6 737.7 L1861.5 738.0 L1863.2 737.4 L1864.8 736.7 L1866.5 736.2 L1868.2 736.6 L1869.8 735.4 L1871.5 736.2 L1873.6 736.3 L1875.7 735.3 L1877.8 735.0 L1879.4 733.6 L1881.1 733.1 L1882.8 732.5 L1884.4 731.7 L1886.1 731.6 L1887.8 732.5 L1889.4 732.6 L1891.1 732.7 L1892.8 733.2 L1894.4 733.9 L1896.1 733.5 L1897.8 734.2 L1899.4 733.3 L1901.1 733.0 L1902.8 733.0 L1904.4 734.2 L1906.1 733.8 L1907.8 734.2 L1909.4 734.2 L1911.1 734.3 L1912.8 735.0 L1914.4 735.2 L1916.1 736.3 L1917.8 737.0 L1919.4 736.9 L1921.1 737.0 L1922.8 736.2 L1924.4 736.8 L1926.1 736.4 L1927.8 736.2 L1929.4 735.4 L1931.1 734.7 L1932.8 734.5 L1934.8 733.3 L1936.9 733.7 L1939.0 734.0 L1940.9 734.3 L1942.8 734.0 L1944.6 734.4 L1946.5 734.2 L1948.4 733.5 L1950.2 734.4 L1952.1 734.0 L1954.0 733.8 L1955.9 733.8 L1957.8 734.1 L1959.6 732.9 L1961.5 734.0 L1963.4 733.8 L1965.2 733.7 L1967.1 735.0 L1969.0 734.2 L1970.7 734.6 L1972.3 734.9 L1974.0 735.5 L1976.1 735.5 L1978.2 734.2 L1980.2 734.2 L1981.9 735.4 L1983.6 734.9 L1985.2 735.8 L1987.1 735.6 L1989.0 735.5 L1990.9 736.1 L1992.8 737.5 L1994.6 738.7 L1996.5 739.2 L1998.2 738.0 L1999.8 739.1 L2001.5 738.5 L2003.6 738.0 L2005.7 738.4 L2007.8 738.2 L2009.4 737.5 L2011.1 737.9 L2012.8 737.5 L2014.6 738.2 L2016.5 738.8 L2018.4 740.9 L2020.2 742.5 L2021.9 742.8 L2023.6 743.1 L2025.2 743.0 L2027.2 742.9 L2029.1 741.7 L2031.0 741.2 L2031 801.7 Z" fill="#e9eefb"/>
<polyline fill="none" stroke="#5580de" stroke-width="1" points="122.0,747.0 203.8,747.0 205.0,723.8 208.8,724.5 215.0,725.5 220.0,728.0 226.2,731.5 232.5,732.5 240.0,734.5 250.0,736.2 260.0,737.5 270.0,738.5 280.0,739.2 290.0,739.5 291.5,724.2 296.2,726.0 298.1,726.4 300.0,727.3 301.9,726.7 303.8,727.5 305.8,728.6 307.9,728.7 310.0,729.5 312.1,729.9 314.2,731.4 316.2,731.0 318.3,730.3 320.4,729.5 322.5,728.8 324.2,728.8 325.8,728.8 327.5,728.0 329.4,728.7 331.2,729.5 332.9,730.6 334.6,730.7 336.2,732.0 338.3,731.5 340.4,731.1 342.5,731.0 344.2,730.2 345.8,730.0 347.5,730.5 349.4,729.1 351.2,729.1 353.1,728.5 355.0,728.0 356.7,728.4 358.3,729.0 360.0,729.5 362.1,729.7 364.2,731.1 366.2,732.0 368.2,732.6 370.1,733.3 372.0,733.5 373.8,731.5 375.7,730.2 377.5,728.8 379.6,727.6 381.7,728.0 383.8,728.0 385.8,726.7 387.9,726.7 390.0,727.0 391.9,730.2 393.8,732.5 395.8,732.8 397.9,735.4 400.0,736.2 402.1,736.6 404.2,736.6 406.2,737.0 408.8,749.5 410.5,740.0 413.0,738.0 415.5,743.8 418.0,744.5 420.0,755.5 422.5,748.8 425.5,751.2 427.1,755.2 428.8,758.8 430.5,762.5 431.8,783.8 433.8,765.5 436.2,766.2 439.0,782.0 440.8,775.0 442.5,767.5 444.4,764.8 446.2,761.2 448.1,758.0 450.0,755.0 451.9,751.0 453.8,747.5 455.8,740.0 458.8,743.8 461.2,744.5 463.8,745.5 466.2,746.2 468.8,750.5 470.4,749.4 472.0,748.8 475.0,746.2 476.9,746.7 478.8,748.0 480.6,747.5 482.5,747.0 484.2,746.4 485.8,747.0 487.5,746.2 489.2,745.4 490.8,745.8 492.5,746.2 494.2,745.6 495.8,744.8 497.5,745.5 499.6,745.4 501.7,742.4 503.8,742.5 505.6,741.4 507.5,740.5 509.2,739.7 510.8,740.1 512.5,738.8 514.2,737.0 515.8,737.6 517.5,736.2 519.2,735.3 520.8,735.0 522.5,734.5 524.5,737.5 526.3,737.0 528.2,737.5 530.0,737.0 531.7,736.2 533.3,736.5 535.0,736.2 536.7,736.7 538.3,737.6 540.0,737.0 542.1,736.7 544.2,739.2 546.2,739.2 548.3,739.3 550.4,738.2 552.5,738.0 554.6,737.8 556.7,737.1 558.8,737.0 560.8,737.9 562.9,737.4 565.0,737.5 566.9,736.7 568.8,735.9 570.6,735.2 572.5,734.5 574.4,733.8 576.2,732.9 578.1,733.6 580.0,732.0 581.9,730.8 583.8,729.6 585.6,730.8 587.5,730.5 589.6,729.7 591.7,729.2 593.8,728.2 596.2,732.5 598.8,731.2 601.2,734.2 602.9,733.7 604.6,733.4 606.2,733.0 607.9,733.1 609.6,733.4 611.2,733.0 612.9,733.7 614.6,734.7 616.2,735.8 618.1,737.5 620.0,737.5 621.5,742.0 623.0,737.5 625.2,737.4 627.5,736.8 629.2,736.0 630.8,737.1 632.5,735.8 634.2,735.5 635.8,734.3 637.5,734.0 639.2,733.4 640.8,734.0 642.5,733.8 644.3,733.5 646.2,733.6 648.0,734.2 649.7,732.9 651.3,732.5 653.0,732.0 654.7,731.8 656.3,730.5 658.0,730.0 659.8,728.5 661.7,728.6 663.5,727.5 665.8,728.5 668.0,729.5 669.9,732.4 671.8,734.5 673.6,733.8 675.5,732.0 677.6,731.8 679.7,731.8 681.8,731.8 683.8,732.5 685.9,732.7 688.0,734.0 690.1,735.1 692.2,736.1 694.2,736.2 695.9,736.6 697.6,736.6 699.2,737.0 700.9,738.3 702.6,739.5 704.2,741.2 706.1,740.0 708.0,739.5 709.9,740.2 711.8,741.2 713.4,740.5 715.1,740.2 716.8,740.0 718.4,738.3 720.1,738.2 721.8,737.0 723.8,737.2 725.9,736.8 728.0,737.5 730.1,736.5 732.2,737.5 734.2,737.5 736.1,738.2 738.0,737.5 739.9,737.8 741.8,738.2 743.4,738.6 745.1,739.7 746.8,740.0 748.8,740.0 750.9,741.3 753.0,741.2 754.9,742.7 756.8,744.5 759.8,748.2 761.4,746.8 763.0,744.5 764.9,745.8 766.8,747.0 768.4,745.8 770.1,744.2 771.8,743.8 773.6,744.1 775.5,745.0 777.2,745.0 778.8,745.6 780.5,745.5 782.4,746.6 784.2,747.5 786.1,747.8 788.0,748.8 790.0,751.2 791.5,760.0 793.0,752.5 795.5,756.2 797.2,755.4 798.8,754.5 800.5,753.0 802.2,751.8 803.8,750.5 805.5,749.5 807.2,749.9 808.8,751.0 810.5,751.2 812.2,752.1 813.8,752.0 815.5,753.0 817.4,753.8 819.2,754.2 820.9,753.6 822.6,753.1 824.2,753.0 825.9,753.4 827.6,753.0 829.2,752.5 830.9,752.4 832.6,753.0 834.2,753.2 835.9,752.4 837.6,750.8 839.2,750.0 841.3,749.1 843.4,748.6 845.5,747.5 847.6,746.7 849.7,747.6 851.8,747.5 853.6,749.1 855.5,750.0 857.4,751.9 859.2,753.2 861.3,752.2 863.4,752.6 865.5,752.0 867.6,751.4 869.7,751.8 871.8,751.2 873.4,750.3 875.1,748.8 876.8,747.5 878.4,743.7 880.0,740.5 882.1,742.5 884.2,745.0 885.9,743.9 887.6,741.6 889.2,740.5 890.9,740.4 892.6,740.1 894.2,739.5 895.9,739.4 897.6,740.6 899.2,739.5 900.9,740.5 902.6,742.5 904.2,742.5 905.9,741.6 907.6,741.5 909.2,742.5 910.9,742.1 912.6,741.1 914.2,740.0 916.3,740.3 918.4,740.8 920.5,741.2 922.4,740.3 924.2,740.7 926.1,740.4 928.0,740.8 929.9,740.5 931.8,740.8 933.6,740.2 935.5,740.0 937.6,740.2 939.7,739.7 941.8,740.0 943.6,738.3 945.5,737.0 947.2,736.6 948.8,736.0 950.5,735.8 952.6,736.7 954.7,736.2 956.8,737.0 958.8,738.0 960.9,736.9 963.0,737.5 965.1,738.5 967.2,738.2 969.2,739.0 971.3,739.5 973.4,738.6 975.5,738.2 977.4,738.4 979.2,738.5 981.1,737.8 983.0,738.0 984.9,737.3 986.8,736.6 988.6,737.8 990.5,737.0 992.4,736.6 994.2,736.6 996.1,736.8 998.0,736.8 999.9,737.2 1001.8,735.1 1003.6,735.5 1005.5,735.0 1007.4,734.4 1009.2,734.2 1011.1,735.7 1013.0,736.8 1014.7,735.4 1016.3,735.4 1018.0,735.0 1020.1,735.0 1022.2,734.9 1024.2,733.8 1025.9,734.2 1027.6,732.9 1029.2,733.0 1031.3,733.7 1033.4,734.3 1035.5,735.0 1037.6,734.1 1039.7,733.9 1041.8,734.2 1043.8,734.0 1045.9,733.2 1048.0,732.5 1050.1,732.0 1052.2,732.2 1054.2,731.2 1056.1,730.4 1058.0,730.5 1059.7,731.2 1061.3,731.5 1063.0,732.0 1064.7,732.6 1066.3,733.4 1068.0,733.8 1069.7,733.2 1071.3,732.5 1073.0,731.8 1075.1,731.7 1077.2,732.3 1079.2,731.2 1081.3,731.5 1083.4,732.5 1085.5,732.5 1087.6,733.0 1089.7,732.8 1091.8,733.2 1093.8,733.0 1095.9,731.7 1098.0,731.5 1100.1,732.1 1102.2,731.3 1104.2,731.8 1105.9,731.1 1107.6,731.1 1109.2,730.5 1111.1,730.2 1113.0,729.2 1114.9,730.7 1116.8,731.2 1118.4,731.7 1120.1,731.2 1121.8,731.2 1123.6,732.4 1125.5,734.5 1127.4,735.4 1129.2,735.8 1130.5,741.2 1133.0,737.0 1134.9,736.4 1136.8,735.5 1138.4,735.9 1140.1,737.6 1141.8,738.0 1143.8,739.4 1145.9,740.2 1148.0,742.0 1149.7,740.9 1151.3,738.7 1153.0,738.0 1154.7,737.4 1156.3,737.8 1158.0,737.5 1159.7,737.5 1161.3,738.9 1163.0,739.5 1165.1,739.9 1167.2,741.8 1169.2,742.5 1171.3,742.3 1173.4,742.9 1175.5,743.0 1177.2,741.7 1178.8,741.7 1180.5,741.2 1183.0,738.8 1186.0,740.0 1187.7,740.4 1189.3,740.2 1191.0,740.0 1192.7,739.8 1194.3,741.7 1196.0,742.0 1197.7,742.2 1199.3,741.3 1201.0,741.2 1202.7,742.1 1204.3,741.1 1206.0,741.8 1207.7,741.5 1209.3,741.9 1211.0,741.2 1212.7,742.1 1214.3,742.3 1216.0,742.0 1218.0,746.2 1219.8,751.2 1221.5,752.5 1223.5,756.2 1226.0,751.2 1228.0,753.0 1231.0,750.0 1232.9,751.0 1234.8,753.0 1236.4,752.6 1238.1,754.0 1239.8,754.2 1241.4,752.9 1243.1,752.7 1244.8,752.0 1246.4,750.9 1248.1,751.5 1249.8,750.5 1251.4,750.5 1253.1,750.1 1254.8,749.5 1256.6,748.5 1258.5,747.5 1260.0,744.5 1261.8,744.1 1263.5,743.8 1265.2,742.8 1266.8,742.3 1268.5,741.2 1270.4,739.5 1272.2,737.5 1274.1,737.5 1276.0,737.0 1277.9,736.1 1279.8,735.5 1281.4,735.6 1283.1,734.1 1284.8,733.2 1286.6,734.8 1288.5,735.0 1290.2,735.8 1291.8,734.9 1293.5,735.5 1295.4,734.5 1297.2,735.0 1299.1,736.4 1301.0,736.8 1302.7,736.5 1304.3,736.6 1306.0,736.5 1307.7,736.9 1309.3,737.6 1311.0,738.0 1312.9,738.2 1314.8,739.5 1316.6,739.7 1318.5,740.0 1320.4,738.8 1322.2,738.0 1324.1,738.4 1326.0,738.8 1327.9,738.9 1329.8,741.2 1331.6,742.0 1333.5,742.0 1335.4,742.6 1337.2,743.0 1339.1,741.3 1341.0,741.2 1342.7,740.3 1344.3,740.1 1346.0,739.5 1347.7,739.3 1349.3,738.5 1351.0,738.0 1352.7,738.5 1354.3,737.7 1356.0,737.5 1357.7,737.5 1359.3,738.0 1361.0,738.8 1363.0,740.0 1364.2,750.0 1366.0,744.5 1367.7,744.4 1369.3,743.4 1371.0,743.2 1372.9,743.0 1374.8,742.0 1377.2,739.5 1379.1,739.2 1381.0,738.0 1382.7,738.3 1384.3,738.5 1386.0,738.0 1387.7,737.8 1389.3,737.7 1391.0,737.5 1392.9,737.5 1394.8,737.9 1396.6,737.7 1398.5,738.8 1400.6,738.1 1402.7,737.4 1404.8,737.5 1406.8,736.4 1408.9,736.7 1411.0,736.2 1412.9,736.8 1414.8,736.7 1416.6,737.8 1418.5,737.5 1420.4,737.8 1422.2,737.7 1424.1,736.9 1426.0,737.0 1427.9,735.8 1429.8,736.3 1431.6,735.6 1433.5,735.0 1435.4,734.9 1437.2,734.3 1439.1,734.3 1441.0,733.2 1442.9,732.8 1444.8,732.9 1446.6,731.9 1448.5,732.0 1450.6,730.5 1452.7,730.8 1454.8,730.5 1456.8,731.6 1458.9,730.6 1461.0,731.8 1463.1,731.6 1465.2,730.3 1467.2,730.0 1469.3,730.1 1471.4,730.5 1473.5,730.8 1475.4,730.8 1477.2,730.2 1479.1,730.6 1481.0,730.5 1482.9,731.0 1484.8,731.5 1486.6,731.1 1488.5,731.8 1490.2,733.1 1491.8,733.9 1493.5,733.8 1495.2,735.7 1496.8,734.8 1498.5,736.2 1500.2,736.2 1501.8,735.1 1503.5,735.8 1505.2,736.5 1506.8,737.2 1508.5,737.5 1510.2,737.4 1511.8,737.6 1513.5,738.8 1515.2,738.0 1516.8,737.4 1518.5,736.2 1520.2,735.3 1521.8,735.0 1523.5,734.5 1525.6,733.1 1527.7,733.7 1529.8,733.8 1531.8,733.6 1533.9,733.5 1536.0,733.2 1538.1,733.5 1540.2,731.9 1542.2,732.0 1544.3,731.2 1546.4,732.5 1548.5,732.5 1550.6,732.9 1552.7,734.0 1554.8,734.5 1556.8,735.2 1558.9,735.4 1561.0,735.5 1563.1,736.8 1565.2,737.4 1567.2,737.5 1568.9,737.2 1570.6,738.3 1572.2,738.8 1573.9,739.2 1575.6,737.7 1577.2,737.5 1578.9,738.2 1580.6,738.0 1582.2,738.2 1584.3,737.8 1586.4,738.5 1588.5,737.5 1590.6,738.0 1592.7,737.4 1594.8,737.5 1596.4,738.3 1598.1,737.7 1599.8,738.8 1601.4,739.3 1603.1,740.8 1604.8,741.2 1606.8,741.7 1608.9,741.6 1611.0,742.5 1613.5,748.8 1615.4,749.6 1617.2,750.0 1618.9,749.3 1620.6,748.9 1622.2,747.5 1623.9,747.5 1625.6,746.5 1627.2,746.2 1628.9,745.8 1630.6,745.7 1632.2,745.5 1634.1,747.0 1636.0,748.8 1637.7,749.0 1639.3,748.6 1641.0,747.5 1642.9,749.4 1644.8,750.0 1646.4,750.0 1648.1,749.6 1649.8,749.5 1651.6,749.7 1653.5,749.0 1655.4,749.0 1657.2,748.8 1659.8,753.0 1662.2,753.8 1663.9,752.4 1665.6,752.4 1667.2,752.0 1668.9,752.8 1670.6,751.9 1672.2,752.5 1674.4,751.2 1676.5,751.2 1678.1,748.1 1679.8,745.0 1681.4,745.6 1683.1,745.3 1684.8,744.5 1686.4,744.5 1688.1,744.6 1689.8,745.0 1691.4,744.8 1693.1,744.2 1694.8,744.5 1697.2,741.2 1699.1,740.6 1701.0,740.0 1702.7,739.6 1704.3,738.8 1706.0,739.2 1707.7,739.4 1709.3,740.0 1711.0,740.5 1713.1,740.2 1715.2,740.2 1717.2,740.8 1718.9,741.3 1720.6,741.9 1722.3,741.0 1724.0,741.2 1725.9,740.1 1727.8,739.2 1729.4,739.6 1731.1,739.3 1732.8,739.5 1734.4,739.3 1736.1,740.5 1737.8,740.0 1739.4,739.5 1741.1,739.7 1742.8,740.0 1745.2,742.5 1746.9,742.2 1748.6,742.1 1750.2,742.5 1752.3,742.2 1754.4,742.4 1756.5,742.0 1758.2,742.4 1759.8,741.8 1761.5,741.2 1763.2,740.2 1764.8,738.5 1766.5,738.0 1768.2,737.8 1769.8,737.2 1771.5,737.5 1773.2,737.0 1774.8,737.1 1776.5,736.2 1778.2,736.2 1779.8,735.8 1781.5,735.8 1783.2,735.2 1784.8,735.2 1786.5,735.0 1788.2,735.7 1789.8,735.9 1791.5,737.0 1793.2,736.5 1794.8,736.9 1796.5,736.2 1798.2,734.7 1799.8,734.4 1801.5,733.8 1803.2,732.8 1804.8,733.6 1806.5,732.5 1808.2,733.0 1809.8,733.2 1811.5,733.2 1813.6,733.8 1815.7,734.0 1817.8,734.2 1819.8,734.6 1821.9,734.0 1824.0,735.0 1825.7,734.9 1827.3,734.9 1829.0,734.5 1830.7,733.8 1832.3,734.7 1834.0,734.2 1835.7,735.1 1837.3,734.6 1839.0,735.8 1840.7,735.9 1842.3,736.3 1844.0,736.8 1845.7,735.9 1847.3,735.8 1849.0,735.0 1850.9,735.4 1852.8,737.0 1854.4,736.8 1856.1,736.9 1857.8,736.8 1859.6,737.7 1861.5,738.0 1863.2,737.4 1864.8,736.7 1866.5,736.2 1868.2,736.6 1869.8,735.4 1871.5,736.2 1873.6,736.3 1875.7,735.3 1877.8,735.0 1879.4,733.6 1881.1,733.1 1882.8,732.5 1884.4,731.7 1886.1,731.6 1887.8,732.5 1889.4,732.6 1891.1,732.7 1892.8,733.2 1894.4,733.9 1896.1,733.5 1897.8,734.2 1899.4,733.3 1901.1,733.0 1902.8,733.0 1904.4,734.2 1906.1,733.8 1907.8,734.2 1909.4,734.2 1911.1,734.3 1912.8,735.0 1914.4,735.2 1916.1,736.3 1917.8,737.0 1919.4,736.9 1921.1,737.0 1922.8,736.2 1924.4,736.8 1926.1,736.4 1927.8,736.2 1929.4,735.4 1931.1,734.7 1932.8,734.5 1934.8,733.3 1936.9,733.7 1939.0,734.0 1940.9,734.3 1942.8,734.0 1944.6,734.4 1946.5,734.2 1948.4,733.5 1950.2,734.4 1952.1,734.0 1954.0,733.8 1955.9,733.8 1957.8,734.1 1959.6,732.9 1961.5,734.0 1963.4,733.8 1965.2,733.7 1967.1,735.0 1969.0,734.2 1970.7,734.6 1972.3,734.9 1974.0,735.5 1976.1,735.5 1978.2,734.2 1980.2,734.2 1981.9,735.4 1983.6,734.9 1985.2,735.8 1987.1,735.6 1989.0,735.5 1990.9,736.1 1992.8,737.5 1994.6,738.7 1996.5,739.2 1998.2,738.0 1999.8,739.1 2001.5,738.5 2003.6,738.0 2005.7,738.4 2007.8,738.2 2009.4,737.5 2011.1,737.9 2012.8,737.5 2014.6,738.2 2016.5,738.8 2018.4,740.9 2020.2,742.5 2021.9,742.8 2023.6,743.1 2025.2,743.0 2027.2,742.9 2029.1,741.7 2031.0,741.2"/>
<rect x="894.8" y="142" width="16" height="15.8" fill="#3dcc7d"/>
<rect x="1177.6" y="142" width="16" height="15.8" fill="#ecb94c"/>
<g fill="#c9c9c9" aria-label="coinglass"><title>coinglass</title><path transform="translate(1850 605) scale(0.08364)" d="M215 100C225 110 235 120 250 122C290 108 350 108 385 122C400 120 408 110 415 100C425 115 435 135 438 160C470 165 505 180 520 205C530 220 535 240 525 245C510 250 495 245 480 240C485 280 480 320 462 350C448 375 425 392 405 400C430 405 460 425 465 455C468 475 455 490 435 492C425 520 410 560 395 578C380 585 350 585 338 578C330 560 325 535 320 520C315 535 310 560 300 578C285 585 255 585 242 575C235 565 228 550 225 540L175 580L165 570L215 530C210 515 205 505 205 495C185 490 175 470 182 450C190 425 215 410 235 402C210 392 185 372 170 345C155 315 150 280 155 250C140 255 115 255 100 245C95 225 110 200 130 185C150 172 175 165 198 162C198 140 205 115 215 100Z"/>
<text x="1903.7" y="642.5" font-family="'Liberation Sans', sans-serif" font-size="28" font-weight="bold" fill="#c9c9c9" textLength="114.6" lengthAdjust="spacingAndGlyphs">coinglass</text></g>
</svg>
<div class="t" style="left:1095.80px;transform-origin:0 50%;top:137.32px;height:23px;line-height:23px;font-size:19.50px;color:#333;transform:scaleX(0.9153);-webkit-text-stroke:0.15px #333;">(NUPL)</div>
<div class="t" style="left:1201.00px;transform-origin:0 50%;top:137.32px;height:23px;line-height:23px;font-size:19.50px;color:#333;transform:scaleX(0.8846);-webkit-text-stroke:0.15px #333;">BTC</div>
<div class="t" style="left:310.10px;transform-origin:0 50%;top:56.68px;height:40px;line-height:40px;font-size:33.40px;color:#1b1e22;font-weight:bold;transform:scaleX(0.9366);-webkit-text-stroke:0.45px #1b1e22;">(NUPL)</div>
<span class="h" style="left:24.0px;top:59.0px;font-size:31.0px;width:280.0px;height:37.2px;line-height:37.2px;color:#1b1e22;font-weight:bold">比特币未实现净盈亏</span>
<span class="h" style="left:919.0px;top:138.0px;font-size:19.0px;width:174.0px;height:22.8px;line-height:22.8px;color:#333">比特币未实现净盈亏</span>
<span class="h" style="left:1237.0px;top:138.0px;font-size:19.0px;width:38.0px;height:22.8px;line-height:22.8px;color:#333">价格</span>
<span class="h" style="left:85.5px;top:181.0px;font-size:19.0px;width:19.0px;height:22.8px;line-height:22.8px;color:#111">万</span>
<div class="t" style="left:54.23px;transform-origin:100% 50%;top:181.72px;height:23px;line-height:23px;font-size:19.40px;color:#111;transform:scaleX(0.9762);-webkit-text-stroke:0.35px #111;">$14</div>
<span class="h" style="left:85.5px;top:249.6px;font-size:19.0px;width:19.0px;height:22.8px;line-height:22.8px;color:#111">万</span>
<div class="t" style="left:54.23px;transform-origin:100% 50%;top:250.29px;height:23px;line-height:23px;font-size:19.40px;color:#111;transform:scaleX(0.9762);-webkit-text-stroke:0.35px #111;">$12</div>
<span class="h" style="left:85.5px;top:318.1px;font-size:19.0px;width:19.0px;height:22.8px;line-height:22.8px;color:#111">万</span>
<div class="t" style="left:54.23px;transform-origin:100% 50%;top:318.86px;height:23px;line-height:23px;font-size:19.40px;color:#111;transform:scaleX(0.9762);-webkit-text-stroke:0.35px #111;">$10</div>
<span class="h" style="left:85.5px;top:386.7px;font-size:19.0px;width:19.0px;height:22.8px;line-height:22.8px;color:#111">万</span>
<div class="t" style="left:65.02px;transform-origin:100% 50%;top:387.43px;height:23px;line-height:23px;font-size:19.40px;color:#111;transform:scaleX(1.0102);-webkit-text-stroke:0.35px #111;">$8</div>
<span class="h" style="left:85.5px;top:455.3px;font-size:19.0px;width:19.0px;height:22.8px;line-height:22.8px;color:#111">万</span>
<div class="t" style="left:65.02px;transform-origin:100% 50%;top:456.00px;height:23px;line-height:23px;font-size:19.40px;color:#111;transform:scaleX(1.0102);-webkit-text-stroke:0.35px #111;">$6</div>
<span class="h" style="left:85.5px;top:523.8px;font-size:19.0px;width:19.0px;height:22.8px;line-height:22.8px;color:#111">万</span>
<div class="t" style="left:65.02px;transform-origin:100% 50%;top:524.57px;height:23px;line-height:23px;font-size:19.40px;color:#111;transform:scaleX(1.0102);-webkit-text-stroke:0.35px #111;">$4</div>
<span class="h" style="left:85.5px;top:592.4px;font-size:19.0px;width:19.0px;height:22.8px;line-height:22.8px;color:#111">万</span>
<div class="t" style="left:65.02px;transform-origin:100% 50%;top:593.14px;height:23px;line-height:23px;font-size:19.40px;color:#111;transform:scaleX(1.0102);-webkit-text-stroke:0.35px #111;">$2</div>
<div class="t" style="left:82.12px;transform-origin:100% 50%;top:661.52px;height:23px;line-height:23px;font-size:19.40px;color:#111;transform:scaleX(0.9407);-webkit-text-stroke:0.35px #111;">$0</div>
<div class="t" style="left:2040.80px;transform-origin:0 50%;top:181.32px;height:23px;line-height:23px;font-size:19.40px;color:#111;transform:scaleX(0.9201);-webkit-text-stroke:0.35px #111;">0.8000</div>
<div class="t" style="left:2040.80px;transform-origin:0 50%;top:261.32px;height:23px;line-height:23px;font-size:19.40px;color:#111;transform:scaleX(0.9201);-webkit-text-stroke:0.35px #111;">0.6000</div>
<div class="t" style="left:2040.80px;transform-origin:0 50%;top:341.32px;height:23px;line-height:23px;font-size:19.40px;color:#111;transform:scaleX(0.9201);-webkit-text-stroke:0.35px #111;">0.4000</div>
<div class="t" style="left:2040.80px;transform-origin:0 50%;top:421.32px;height:23px;line-height:23px;font-size:19.40px;color:#111;transform:scaleX(0.9201);-webkit-text-stroke:0.35px #111;">0.2000</div>
<div class="t" style="left:2040.80px;transform-origin:0 50%;top:581.32px;height:23px;line-height:23px;font-size:19.40px;color:#111;transform:scaleX(0.9423);-webkit-text-stroke:0.35px #111;">-0.2000</div>
<div class="t" style="left:167.08px;transform-origin:50% 50%;top:684.12px;height:23px;line-height:23px;font-size:19.40px;color:#111;transform:scaleX(0.9633);-webkit-text-stroke:0.35px #111;">2020-09-02</div>
<div class="t" style="left:295.08px;transform-origin:50% 50%;top:684.12px;height:23px;line-height:23px;font-size:19.40px;color:#111;transform:scaleX(0.9633);-webkit-text-stroke:0.35px #111;">2021-01-22</div>
<div class="t" style="left:423.08px;transform-origin:50% 50%;top:684.12px;height:23px;line-height:23px;font-size:19.40px;color:#111;transform:scaleX(0.9633);-webkit-text-stroke:0.35px #111;">2021-06-13</div>
<div class="t" style="left:551.80px;transform-origin:50% 50%;top:684.12px;height:23px;line-height:23px;font-size:19.40px;color:#111;transform:scaleX(0.9775);-webkit-text-stroke:0.35px #111;">2021-11-02</div>
<div class="t" style="left:679.08px;transform-origin:50% 50%;top:684.12px;height:23px;line-height:23px;font-size:19.40px;color:#111;transform:scaleX(0.9633);-webkit-text-stroke:0.35px #111;">2022-03-24</div>
<div class="t" style="left:807.08px;transform-origin:50% 50%;top:684.12px;height:23px;line-height:23px;font-size:19.40px;color:#111;transform:scaleX(0.9633);-webkit-text-stroke:0.35px #111;">2022-08-13</div>
<div class="t" style="left:935.08px;transform-origin:50% 50%;top:684.12px;height:23px;line-height:23px;font-size:19.40px;color:#111;transform:scaleX(0.9633);-webkit-text-stroke:0.35px #111;">2023-01-02</div>
<div class="t" style="left:1063.08px;transform-origin:50% 50%;top:684.12px;height:23px;line-height:23px;font-size:19.40px;color:#111;transform:scaleX(0.9633);-webkit-text-stroke:0.35px #111;">2023-05-24</div>
<div class="t" style="left:1191.08px;transform-origin:50% 50%;top:684.12px;height:23px;line-height:23px;font-size:19.40px;color:#111;transform:scaleX(0.9633);-webkit-text-stroke:0.35px #111;">2023-10-13</div>
<div class="t" style="left:1319.08px;transform-origin:50% 50%;top:684.12px;height:23px;line-height:23px;font-size:19.40px;color:#111;transform:scaleX(0.9633);-webkit-text-stroke:0.35px #111;">2024-03-03</div>
<div class="t" style="left:1447.08px;transform-origin:50% 50%;top:684.12px;height:23px;line-height:23px;font-size:19.40px;color:#111;transform:scaleX(0.9633);-webkit-text-stroke:0.35px #111;">2024-07-23</div>
<div class="t" style="left:1575.08px;transform-origin:50% 50%;top:684.12px;height:23px;line-height:23px;font-size:19.40px;color:#111;transform:scaleX(0.9633);-webkit-text-stroke:0.35px #111;">2024-12-12</div>
<div class="t" style="left:1703.08px;transform-origin:50% 50%;top:684.12px;height:23px;line-height:23px;font-size:19.40px;color:#111;transform:scaleX(0.9633);-webkit-text-stroke:0.35px #111;">2025-05-03</div>
<div class="t" style="left:1831.08px;transform-origin:50% 50%;top:684.12px;height:23px;line-height:23px;font-size:19.40px;color:#111;transform:scaleX(0.9633);-webkit-text-stroke:0.35px #111;">2025-09-22</div>
<div class="t" style="left:1959.80px;transform-origin:50% 50%;top:684.12px;height:23px;line-height:23px;font-size:19.40px;color:#111;transform:scaleX(0.9775);-webkit-text-stroke:0.35px #111;">2026-02-11</div>
<svg width="2152" height="810" viewBox="0 0 2152 810">
<g clip-path="url(#csh)" opacity="0.345"><rect x="756" y="620" width="616" height="171" fill="#000" filter="url(#bl)"/></g>
<g clip-path="url(#cstrip)" opacity="0.23"><rect x="756" y="620" width="616" height="171" fill="#000" filter="url(#bl)"/></g>
<rect x="1383" y="706" width="643.5" height="95.7" fill="#eff3fe"/>
<g clip-path="url(#csel)"><path d="M122 801.7 L122.0 747.0 L203.8 747.0 L205.0 723.8 L208.8 724.5 L215.0 725.5 L220.0 728.0 L226.2 731.5 L232.5 732.5 L240.0 734.5 L250.0 736.2 L260.0 737.5 L270.0 738.5 L280.0 739.2 L290.0 739.5 L291.5 724.2 L296.2 726.0 L298.1 726.4 L300.0 727.3 L301.9 726.7 L303.8 727.5 L305.8 728.6 L307.9 728.7 L310.0 729.5 L312.1 729.9 L314.2 731.4 L316.2 731.0 L318.3 730.3 L320.4 729.5 L322.5 728.8 L324.2 728.8 L325.8 728.8 L327.5 728.0 L329.4 728.7 L331.2 729.5 L332.9 730.6 L334.6 730.7 L336.2 732.0 L338.3 731.5 L340.4 731.1 L342.5 731.0 L344.2 730.2 L345.8 730.0 L347.5 730.5 L349.4 729.1 L351.2 729.1 L353.1 728.5 L355.0 728.0 L356.7 728.4 L358.3 729.0 L360.0 729.5 L362.1 729.7 L364.2 731.1 L366.2 732.0 L368.2 732.6 L370.1 733.3 L372.0 733.5 L373.8 731.5 L375.7 730.2 L377.5 728.8 L379.6 727.6 L381.7 728.0 L383.8 728.0 L385.8 726.7 L387.9 726.7 L390.0 727.0 L391.9 730.2 L393.8 732.5 L395.8 732.8 L397.9 735.4 L400.0 736.2 L402.1 736.6 L404.2 736.6 L406.2 737.0 L408.8 749.5 L410.5 740.0 L413.0 738.0 L415.5 743.8 L418.0 744.5 L420.0 755.5 L422.5 748.8 L425.5 751.2 L427.1 755.2 L428.8 758.8 L430.5 762.5 L431.8 783.8 L433.8 765.5 L436.2 766.2 L439.0 782.0 L440.8 775.0 L442.5 767.5 L444.4 764.8 L446.2 761.2 L448.1 758.0 L450.0 755.0 L451.9 751.0 L453.8 747.5 L455.8 740.0 L458.8 743.8 L461.2 744.5 L463.8 745.5 L466.2 746.2 L468.8 750.5 L470.4 749.4 L472.0 748.8 L475.0 746.2 L476.9 746.7 L478.8 748.0 L480.6 747.5 L482.5 747.0 L484.2 746.4 L485.8 747.0 L487.5 746.2 L489.2 745.4 L490.8 745.8 L492.5 746.2 L494.2 745.6 L495.8 744.8 L497.5 745.5 L499.6 745.4 L501.7 742.4 L503.8 742.5 L505.6 741.4 L507.5 740.5 L509.2 739.7 L510.8 740.1 L512.5 738.8 L514.2 737.0 L515.8 737.6 L517.5 736.2 L519.2 735.3 L520.8 735.0 L522.5 734.5 L524.5 737.5 L526.3 737.0 L528.2 737.5 L530.0 737.0 L531.7 736.2 L533.3 736.5 L535.0 736.2 L536.7 736.7 L538.3 737.6 L540.0 737.0 L542.1 736.7 L544.2 739.2 L546.2 739.2 L548.3 739.3 L550.4 738.2 L552.5 738.0 L554.6 737.8 L556.7 737.1 L558.8 737.0 L560.8 737.9 L562.9 737.4 L565.0 737.5 L566.9 736.7 L568.8 735.9 L570.6 735.2 L572.5 734.5 L574.4 733.8 L576.2 732.9 L578.1 733.6 L580.0 732.0 L581.9 730.8 L583.8 729.6 L585.6 730.8 L587.5 730.5 L589.6 729.7 L591.7 729.2 L593.8 728.2 L596.2 732.5 L598.8 731.2 L601.2 734.2 L602.9 733.7 L604.6 733.4 L606.2 733.0 L607.9 733.1 L609.6 733.4 L611.2 733.0 L612.9 733.7 L614.6 734.7 L616.2 735.8 L618.1 737.5 L620.0 737.5 L621.5 742.0 L623.0 737.5 L625.2 737.4 L627.5 736.8 L629.2 736.0 L630.8 737.1 L632.5 735.8 L634.2 735.5 L635.8 734.3 L637.5 734.0 L639.2 733.4 L640.8 734.0 L642.5 733.8 L644.3 733.5 L646.2 733.6 L648.0 734.2 L649.7 732.9 L651.3 732.5 L653.0 732.0 L654.7 731.8 L656.3 730.5 L658.0 730.0 L659.8 728.5 L661.7 728.6 L663.5 727.5 L665.8 728.5 L668.0 729.5 L669.9 732.4 L671.8 734.5 L673.6 733.8 L675.5 732.0 L677.6 731.8 L679.7 731.8 L681.8 731.8 L683.8 732.5 L685.9 732.7 L688.0 734.0 L690.1 735.1 L692.2 736.1 L694.2 736.2 L695.9 736.6 L697.6 736.6 L699.2 737.0 L700.9 738.3 L702.6 739.5 L704.2 741.2 L706.1 740.0 L708.0 739.5 L709.9 740.2 L711.8 741.2 L713.4 740.5 L715.1 740.2 L716.8 740.0 L718.4 738.3 L720.1 738.2 L721.8 737.0 L723.8 737.2 L725.9 736.8 L728.0 737.5 L730.1 736.5 L732.2 737.5 L734.2 737.5 L736.1 738.2 L738.0 737.5 L739.9 737.8 L741.8 738.2 L743.4 738.6 L745.1 739.7 L746.8 740.0 L748.8 740.0 L750.9 741.3 L753.0 741.2 L754.9 742.7 L756.8 744.5 L759.8 748.2 L761.4 746.8 L763.0 744.5 L764.9 745.8 L766.8 747.0 L768.4 745.8 L770.1 744.2 L771.8 743.8 L773.6 744.1 L775.5 745.0 L777.2 745.0 L778.8 745.6 L780.5 745.5 L782.4 746.6 L784.2 747.5 L786.1 747.8 L788.0 748.8 L790.0 751.2 L791.5 760.0 L793.0 752.5 L795.5 756.2 L797.2 755.4 L798.8 754.5 L800.5 753.0 L802.2 751.8 L803.8 750.5 L805.5 749.5 L807.2 749.9 L808.8 751.0 L810.5 751.2 L812.2 752.1 L813.8 752.0 L815.5 753.0 L817.4 753.8 L819.2 754.2 L820.9 753.6 L822.6 753.1 L824.2 753.0 L825.9 753.4 L827.6 753.0 L829.2 752.5 L830.9 752.4 L832.6 753.0 L834.2 753.2 L835.9 752.4 L837.6 750.8 L839.2 750.0 L841.3 749.1 L843.4 748.6 L845.5 747.5 L847.6 746.7 L849.7 747.6 L851.8 747.5 L853.6 749.1 L855.5 750.0 L857.4 751.9 L859.2 753.2 L861.3 752.2 L863.4 752.6 L865.5 752.0 L867.6 751.4 L869.7 751.8 L871.8 751.2 L873.4 750.3 L875.1 748.8 L876.8 747.5 L878.4 743.7 L880.0 740.5 L882.1 742.5 L884.2 745.0 L885.9 743.9 L887.6 741.6 L889.2 740.5 L890.9 740.4 L892.6 740.1 L894.2 739.5 L895.9 739.4 L897.6 740.6 L899.2 739.5 L900.9 740.5 L902.6 742.5 L904.2 742.5 L905.9 741.6 L907.6 741.5 L909.2 742.5 L910.9 742.1 L912.6 741.1 L914.2 740.0 L916.3 740.3 L918.4 740.8 L920.5 741.2 L922.4 740.3 L924.2 740.7 L926.1 740.4 L928.0 740.8 L929.9 740.5 L931.8 740.8 L933.6 740.2 L935.5 740.0 L937.6 740.2 L939.7 739.7 L941.8 740.0 L943.6 738.3 L945.5 737.0 L947.2 736.6 L948.8 736.0 L950.5 735.8 L952.6 736.7 L954.7 736.2 L956.8 737.0 L958.8 738.0 L960.9 736.9 L963.0 737.5 L965.1 738.5 L967.2 738.2 L969.2 739.0 L971.3 739.5 L973.4 738.6 L975.5 738.2 L977.4 738.4 L979.2 738.5 L981.1 737.8 L983.0 738.0 L984.9 737.3 L986.8 736.6 L988.6 737.8 L990.5 737.0 L992.4 736.6 L994.2 736.6 L996.1 736.8 L998.0 736.8 L999.9 737.2 L1001.8 735.1 L1003.6 735.5 L1005.5 735.0 L1007.4 734.4 L1009.2 734.2 L1011.1 735.7 L1013.0 736.8 L1014.7 735.4 L1016.3 735.4 L1018.0 735.0 L1020.1 735.0 L1022.2 734.9 L1024.2 733.8 L1025.9 734.2 L1027.6 732.9 L1029.2 733.0 L1031.3 733.7 L1033.4 734.3 L1035.5 735.0 L1037.6 734.1 L1039.7 733.9 L1041.8 734.2 L1043.8 734.0 L1045.9 733.2 L1048.0 732.5 L1050.1 732.0 L1052.2 732.2 L1054.2 731.2 L1056.1 730.4 L1058.0 730.5 L1059.7 731.2 L1061.3 731.5 L1063.0 732.0 L1064.7 732.6 L1066.3 733.4 L1068.0 733.8 L1069.7 733.2 L1071.3 732.5 L1073.0 731.8 L1075.1 731.7 L1077.2 732.3 L1079.2 731.2 L1081.3 731.5 L1083.4 732.5 L1085.5 732.5 L1087.6 733.0 L1089.7 732.8 L1091.8 733.2 L1093.8 733.0 L1095.9 731.7 L1098.0 731.5 L1100.1 732.1 L1102.2 731.3 L1104.2 731.8 L1105.9 731.1 L1107.6 731.1 L1109.2 730.5 L1111.1 730.2 L1113.0 729.2 L1114.9 730.7 L1116.8 731.2 L1118.4 731.7 L1120.1 731.2 L1121.8 731.2 L1123.6 732.4 L1125.5 734.5 L1127.4 735.4 L1129.2 735.8 L1130.5 741.2 L1133.0 737.0 L1134.9 736.4 L1136.8 735.5 L1138.4 735.9 L1140.1 737.6 L1141.8 738.0 L1143.8 739.4 L1145.9 740.2 L1148.0 742.0 L1149.7 740.9 L1151.3 738.7 L1153.0 738.0 L1154.7 737.4 L1156.3 737.8 L1158.0 737.5 L1159.7 737.5 L1161.3 738.9 L1163.0 739.5 L1165.1 739.9 L1167.2 741.8 L1169.2 742.5 L1171.3 742.3 L1173.4 742.9 L1175.5 743.0 L1177.2 741.7 L1178.8 741.7 L1180.5 741.2 L1183.0 738.8 L1186.0 740.0 L1187.7 740.4 L1189.3 740.2 L1191.0 740.0 L1192.7 739.8 L1194.3 741.7 L1196.0 742.0 L1197.7 742.2 L1199.3 741.3 L1201.0 741.2 L1202.7 742.1 L1204.3 741.1 L1206.0 741.8 L1207.7 741.5 L1209.3 741.9 L1211.0 741.2 L1212.7 742.1 L1214.3 742.3 L1216.0 742.0 L1218.0 746.2 L1219.8 751.2 L1221.5 752.5 L1223.5 756.2 L1226.0 751.2 L1228.0 753.0 L1231.0 750.0 L1232.9 751.0 L1234.8 753.0 L1236.4 752.6 L1238.1 754.0 L1239.8 754.2 L1241.4 752.9 L1243.1 752.7 L1244.8 752.0 L1246.4 750.9 L1248.1 751.5 L1249.8 750.5 L1251.4 750.5 L1253.1 750.1 L1254.8 749.5 L1256.6 748.5 L1258.5 747.5 L1260.0 744.5 L1261.8 744.1 L1263.5 743.8 L1265.2 742.8 L1266.8 742.3 L1268.5 741.2 L1270.4 739.5 L1272.2 737.5 L1274.1 737.5 L1276.0 737.0 L1277.9 736.1 L1279.8 735.5 L1281.4 735.6 L1283.1 734.1 L1284.8 733.2 L1286.6 734.8 L1288.5 735.0 L1290.2 735.8 L1291.8 734.9 L1293.5 735.5 L1295.4 734.5 L1297.2 735.0 L1299.1 736.4 L1301.0 736.8 L1302.7 736.5 L1304.3 736.6 L1306.0 736.5 L1307.7 736.9 L1309.3 737.6 L1311.0 738.0 L1312.9 738.2 L1314.8 739.5 L1316.6 739.7 L1318.5 740.0 L1320.4 738.8 L1322.2 738.0 L1324.1 738.4 L1326.0 738.8 L1327.9 738.9 L1329.8 741.2 L1331.6 742.0 L1333.5 742.0 L1335.4 742.6 L1337.2 743.0 L1339.1 741.3 L1341.0 741.2 L1342.7 740.3 L1344.3 740.1 L1346.0 739.5 L1347.7 739.3 L1349.3 738.5 L1351.0 738.0 L1352.7 738.5 L1354.3 737.7 L1356.0 737.5 L1357.7 737.5 L1359.3 738.0 L1361.0 738.8 L1363.0 740.0 L1364.2 750.0 L1366.0 744.5 L1367.7 744.4 L1369.3 743.4 L1371.0 743.2 L1372.9 743.0 L1374.8 742.0 L1377.2 739.5 L1379.1 739.2 L1381.0 738.0 L1382.7 738.3 L1384.3 738.5 L1386.0 738.0 L1387.7 737.8 L1389.3 737.7 L1391.0 737.5 L1392.9 737.5 L1394.8 737.9 L1396.6 737.7 L1398.5 738.8 L1400.6 738.1 L1402.7 737.4 L1404.8 737.5 L1406.8 736.4 L1408.9 736.7 L1411.0 736.2 L1412.9 736.8 L1414.8 736.7 L1416.6 737.8 L1418.5 737.5 L1420.4 737.8 L1422.2 737.7 L1424.1 736.9 L1426.0 737.0 L1427.9 735.8 L1429.8 736.3 L1431.6 735.6 L1433.5 735.0 L1435.4 734.9 L1437.2 734.3 L1439.1 734.3 L1441.0 733.2 L1442.9 732.8 L1444.8 732.9 L1446.6 731.9 L1448.5 732.0 L1450.6 730.5 L1452.7 730.8 L1454.8 730.5 L1456.8 731.6 L1458.9 730.6 L1461.0 731.8 L1463.1 731.6 L1465.2 730.3 L1467.2 730.0 L1469.3 730.1 L1471.4 730.5 L1473.5 730.8 L1475.4 730.8 L1477.2 730.2 L1479.1 730.6 L1481.0 730.5 L1482.9 731.0 L1484.8 731.5 L1486.6 731.1 L1488.5 731.8 L1490.2 733.1 L1491.8 733.9 L1493.5 733.8 L1495.2 735.7 L1496.8 734.8 L1498.5 736.2 L1500.2 736.2 L1501.8 735.1 L1503.5 735.8 L1505.2 736.5 L1506.8 737.2 L1508.5 737.5 L1510.2 737.4 L1511.8 737.6 L1513.5 738.8 L1515.2 738.0 L1516.8 737.4 L1518.5 736.2 L1520.2 735.3 L1521.8 735.0 L1523.5 734.5 L1525.6 733.1 L1527.7 733.7 L1529.8 733.8 L1531.8 733.6 L1533.9 733.5 L1536.0 733.2 L1538.1 733.5 L1540.2 731.9 L1542.2 732.0 L1544.3 731.2 L1546.4 732.5 L1548.5 732.5 L1550.6 732.9 L1552.7 734.0 L1554.8 734.5 L1556.8 735.2 L1558.9 735.4 L1561.0 735.5 L1563.1 736.8 L1565.2 737.4 L1567.2 737.5 L1568.9 737.2 L1570.6 738.3 L1572.2 738.8 L1573.9 739.2 L1575.6 737.7 L1577.2 737.5 L1578.9 738.2 L1580.6 738.0 L1582.2 738.2 L1584.3 737.8 L1586.4 738.5 L1588.5 737.5 L1590.6 738.0 L1592.7 737.4 L1594.8 737.5 L1596.4 738.3 L1598.1 737.7 L1599.8 738.8 L1601.4 739.3 L1603.1 740.8 L1604.8 741.2 L1606.8 741.7 L1608.9 741.6 L1611.0 742.5 L1613.5 748.8 L1615.4 749.6 L1617.2 750.0 L1618.9 749.3 L1620.6 748.9 L1622.2 747.5 L1623.9 747.5 L1625.6 746.5 L1627.2 746.2 L1628.9 745.8 L1630.6 745.7 L1632.2 745.5 L1634.1 747.0 L1636.0 748.8 L1637.7 749.0 L1639.3 748.6 L1641.0 747.5 L1642.9 749.4 L1644.8 750.0 L1646.4 750.0 L1648.1 749.6 L1649.8 749.5 L1651.6 749.7 L1653.5 749.0 L1655.4 749.0 L1657.2 748.8 L1659.8 753.0 L1662.2 753.8 L1663.9 752.4 L1665.6 752.4 L1667.2 752.0 L1668.9 752.8 L1670.6 751.9 L1672.2 752.5 L1674.4 751.2 L1676.5 751.2 L1678.1 748.1 L1679.8 745.0 L1681.4 745.6 L1683.1 745.3 L1684.8 744.5 L1686.4 744.5 L1688.1 744.6 L1689.8 745.0 L1691.4 744.8 L1693.1 744.2 L1694.8 744.5 L1697.2 741.2 L1699.1 740.6 L1701.0 740.0 L1702.7 739.6 L1704.3 738.8 L1706.0 739.2 L1707.7 739.4 L1709.3 740.0 L1711.0 740.5 L1713.1 740.2 L1715.2 740.2 L1717.2 740.8 L1718.9 741.3 L1720.6 741.9 L1722.3 741.0 L1724.0 741.2 L1725.9 740.1 L1727.8 739.2 L1729.4 739.6 L1731.1 739.3 L1732.8 739.5 L1734.4 739.3 L1736.1 740.5 L1737.8 740.0 L1739.4 739.5 L1741.1 739.7 L1742.8 740.0 L1745.2 742.5 L1746.9 742.2 L1748.6 742.1 L1750.2 742.5 L1752.3 742.2 L1754.4 742.4 L1756.5 742.0 L1758.2 742.4 L1759.8 741.8 L1761.5 741.2 L1763.2 740.2 L1764.8 738.5 L1766.5 738.0 L1768.2 737.8 L1769.8 737.2 L1771.5 737.5 L1773.2 737.0 L1774.8 737.1 L1776.5 736.2 L1778.2 736.2 L1779.8 735.8 L1781.5 735.8 L1783.2 735.2 L1784.8 735.2 L1786.5 735.0 L1788.2 735.7 L1789.8 735.9 L1791.5 737.0 L1793.2 736.5 L1794.8 736.9 L1796.5 736.2 L1798.2 734.7 L1799.8 734.4 L1801.5 733.8 L1803.2 732.8 L1804.8 733.6 L1806.5 732.5 L1808.2 733.0 L1809.8 733.2 L1811.5 733.2 L1813.6 733.8 L1815.7 734.0 L1817.8 734.2 L1819.8 734.6 L1821.9 734.0 L1824.0 735.0 L1825.7 734.9 L1827.3 734.9 L1829.0 734.5 L1830.7 733.8 L1832.3 734.7 L1834.0 734.2 L1835.7 735.1 L1837.3 734.6 L1839.0 735.8 L1840.7 735.9 L1842.3 736.3 L1844.0 736.8 L1845.7 735.9 L1847.3 735.8 L1849.0 735.0 L1850.9 735.4 L1852.8 737.0 L1854.4 736.8 L1856.1 736.9 L1857.8 736.8 L1859.6 737.7 L1861.5 738.0 L1863.2 737.4 L1864.8 736.7 L1866.5 736.2 L1868.2 736.6 L1869.8 735.4 L1871.5 736.2 L1873.6 736.3 L1875.7 735.3 L1877.8 735.0 L1879.4 733.6 L1881.1 733.1 L1882.8 732.5 L1884.4 731.7 L1886.1 731.6 L1887.8 732.5 L1889.4 732.6 L1891.1 732.7 L1892.8 733.2 L1894.4 733.9 L1896.1 733.5 L1897.8 734.2 L1899.4 733.3 L1901.1 733.0 L1902.8 733.0 L1904.4 734.2 L1906.1 733.8 L1907.8 734.2 L1909.4 734.2 L1911.1 734.3 L1912.8 735.0 L1914.4 735.2 L1916.1 736.3 L1917.8 737.0 L1919.4 736.9 L1921.1 737.0 L1922.8 736.2 L1924.4 736.8 L1926.1 736.4 L1927.8 736.2 L1929.4 735.4 L1931.1 734.7 L1932.8 734.5 L1934.8 733.3 L1936.9 733.7 L1939.0 734.0 L1940.9 734.3 L1942.8 734.0 L1944.6 734.4 L1946.5 734.2 L1948.4 733.5 L1950.2 734.4 L1952.1 734.0 L1954.0 733.8 L1955.9 733.8 L1957.8 734.1 L1959.6 732.9 L1961.5 734.0 L1963.4 733.8 L1965.2 733.7 L1967.1 735.0 L1969.0 734.2 L1970.7 734.6 L1972.3 734.9 L1974.0 735.5 L1976.1 735.5 L1978.2 734.2 L1980.2 734.2 L1981.9 735.4 L1983.6 734.9 L1985.2 735.8 L1987.1 735.6 L1989.0 735.5 L1990.9 736.1 L1992.8 737.5 L1994.6 738.7 L1996.5 739.2 L1998.2 738.0 L1999.8 739.1 L2001.5 738.5 L2003.6 738.0 L2005.7 738.4 L2007.8 738.2 L2009.4 737.5 L2011.1 737.9 L2012.8 737.5 L2014.6 738.2 L2016.5 738.8 L2018.4 740.9 L2020.2 742.5 L2021.9 742.8 L2023.6 743.1 L2025.2 743.0 L2027.2 742.9 L2029.1 741.7 L2031.0 741.2 L2031 801.7 Z" fill="#d9e2fb"/><polyline fill="none" stroke="#8fb0f0" stroke-width="1" points="122.0,747.0 203.8,747.0 205.0,723.8 208.8,724.5 215.0,725.5 220.0,728.0 226.2,731.5 232.5,732.5 240.0,734.5 250.0,736.2 260.0,737.5 270.0,738.5 280.0,739.2 290.0,739.5 291.5,724.2 296.2,726.0 298.1,726.4 300.0,727.3 301.9,726.7 303.8,727.5 305.8,728.6 307.9,728.7 310.0,729.5 312.1,729.9 314.2,731.4 316.2,731.0 318.3,730.3 320.4,729.5 322.5,728.8 324.2,728.8 325.8,728.8 327.5,728.0 329.4,728.7 331.2,729.5 332.9,730.6 334.6,730.7 336.2,732.0 338.3,731.5 340.4,731.1 342.5,731.0 344.2,730.2 345.8,730.0 347.5,730.5 349.4,729.1 351.2,729.1 353.1,728.5 355.0,728.0 356.7,728.4 358.3,729.0 360.0,729.5 362.1,729.7 364.2,731.1 366.2,732.0 368.2,732.6 370.1,733.3 372.0,733.5 373.8,731.5 375.7,730.2 377.5,728.8 379.6,727.6 381.7,728.0 383.8,728.0 385.8,726.7 387.9,726.7 390.0,727.0 391.9,730.2 393.8,732.5 395.8,732.8 397.9,735.4 400.0,736.2 402.1,736.6 404.2,736.6 406.2,737.0 408.8,749.5 410.5,740.0 413.0,738.0 415.5,743.8 418.0,744.5 420.0,755.5 422.5,748.8 425.5,751.2 427.1,755.2 428.8,758.8 430.5,762.5 431.8,783.8 433.8,765.5 436.2,766.2 439.0,782.0 440.8,775.0 442.5,767.5 444.4,764.8 446.2,761.2 448.1,758.0 450.0,755.0 451.9,751.0 453.8,747.5 455.8,740.0 458.8,743.8 461.2,744.5 463.8,745.5 466.2,746.2 468.8,750.5 470.4,749.4 472.0,748.8 475.0,746.2 476.9,746.7 478.8,748.0 480.6,747.5 482.5,747.0 484.2,746.4 485.8,747.0 487.5,746.2 489.2,745.4 490.8,745.8 492.5,746.2 494.2,745.6 495.8,744.8 497.5,745.5 499.6,745.4 501.7,742.4 503.8,742.5 505.6,741.4 507.5,740.5 509.2,739.7 510.8,740.1 512.5,738.8 514.2,737.0 515.8,737.6 517.5,736.2 519.2,735.3 520.8,735.0 522.5,734.5 524.5,737.5 526.3,737.0 528.2,737.5 530.0,737.0 531.7,736.2 533.3,736.5 535.0,736.2 536.7,736.7 538.3,737.6 540.0,737.0 542.1,736.7 544.2,739.2 546.2,739.2 548.3,739.3 550.4,738.2 552.5,738.0 554.6,737.8 556.7,737.1 558.8,737.0 560.8,737.9 562.9,737.4 565.0,737.5 566.9,736.7 568.8,735.9 570.6,735.2 572.5,734.5 574.4,733.8 576.2,732.9 578.1,733.6 580.0,732.0 581.9,730.8 583.8,729.6 585.6,730.8 587.5,730.5 589.6,729.7 591.7,729.2 593.8,728.2 596.2,732.5 598.8,731.2 601.2,734.2 602.9,733.7 604.6,733.4 606.2,733.0 607.9,733.1 609.6,733.4 611.2,733.0 612.9,733.7 614.6,734.7 616.2,735.8 618.1,737.5 620.0,737.5 621.5,742.0 623.0,737.5 625.2,737.4 627.5,736.8 629.2,736.0 630.8,737.1 632.5,735.8 634.2,735.5 635.8,734.3 637.5,734.0 639.2,733.4 640.8,734.0 642.5,733.8 644.3,733.5 646.2,733.6 648.0,734.2 649.7,732.9 651.3,732.5 653.0,732.0 654.7,731.8 656.3,730.5 658.0,730.0 659.8,728.5 661.7,728.6 663.5,727.5 665.8,728.5 668.0,729.5 669.9,732.4 671.8,734.5 673.6,733.8 675.5,732.0 677.6,731.8 679.7,731.8 681.8,731.8 683.8,732.5 685.9,732.7 688.0,734.0 690.1,735.1 692.2,736.1 694.2,736.2 695.9,736.6 697.6,736.6 699.2,737.0 700.9,738.3 702.6,739.5 704.2,741.2 706.1,740.0 708.0,739.5 709.9,740.2 711.8,741.2 713.4,740.5 715.1,740.2 716.8,740.0 718.4,738.3 720.1,738.2 721.8,737.0 723.8,737.2 725.9,736.8 728.0,737.5 730.1,736.5 732.2,737.5 734.2,737.5 736.1,738.2 738.0,737.5 739.9,737.8 741.8,738.2 743.4,738.6 745.1,739.7 746.8,740.0 748.8,740.0 750.9,741.3 753.0,741.2 754.9,742.7 756.8,744.5 759.8,748.2 761.4,746.8 763.0,744.5 764.9,745.8 766.8,747.0 768.4,745.8 770.1,744.2 771.8,743.8 773.6,744.1 775.5,745.0 777.2,745.0 778.8,745.6 780.5,745.5 782.4,746.6 784.2,747.5 786.1,747.8 788.0,748.8 790.0,751.2 791.5,760.0 793.0,752.5 795.5,756.2 797.2,755.4 798.8,754.5 800.5,753.0 802.2,751.8 803.8,750.5 805.5,749.5 807.2,749.9 808.8,751.0 810.5,751.2 812.2,752.1 813.8,752.0 815.5,753.0 817.4,753.8 819.2,754.2 820.9,753.6 822.6,753.1 824.2,753.0 825.9,753.4 827.6,753.0 829.2,752.5 830.9,752.4 832.6,753.0 834.2,753.2 835.9,752.4 837.6,750.8 839.2,750.0 841.3,749.1 843.4,748.6 845.5,747.5 847.6,746.7 849.7,747.6 851.8,747.5 853.6,749.1 855.5,750.0 857.4,751.9 859.2,753.2 861.3,752.2 863.4,752.6 865.5,752.0 867.6,751.4 869.7,751.8 871.8,751.2 873.4,750.3 875.1,748.8 876.8,747.5 878.4,743.7 880.0,740.5 882.1,742.5 884.2,745.0 885.9,743.9 887.6,741.6 889.2,740.5 890.9,740.4 892.6,740.1 894.2,739.5 895.9,739.4 897.6,740.6 899.2,739.5 900.9,740.5 902.6,742.5 904.2,742.5 905.9,741.6 907.6,741.5 909.2,742.5 910.9,742.1 912.6,741.1 914.2,740.0 916.3,740.3 918.4,740.8 920.5,741.2 922.4,740.3 924.2,740.7 926.1,740.4 928.0,740.8 929.9,740.5 931.8,740.8 933.6,740.2 935.5,740.0 937.6,740.2 939.7,739.7 941.8,740.0 943.6,738.3 945.5,737.0 947.2,736.6 948.8,736.0 950.5,735.8 952.6,736.7 954.7,736.2 956.8,737.0 958.8,738.0 960.9,736.9 963.0,737.5 965.1,738.5 967.2,738.2 969.2,739.0 971.3,739.5 973.4,738.6 975.5,738.2 977.4,738.4 979.2,738.5 981.1,737.8 983.0,738.0 984.9,737.3 986.8,736.6 988.6,737.8 990.5,737.0 992.4,736.6 994.2,736.6 996.1,736.8 998.0,736.8 999.9,737.2 1001.8,735.1 1003.6,735.5 1005.5,735.0 1007.4,734.4 1009.2,734.2 1011.1,735.7 1013.0,736.8 1014.7,735.4 1016.3,735.4 1018.0,735.0 1020.1,735.0 1022.2,734.9 1024.2,733.8 1025.9,734.2 1027.6,732.9 1029.2,733.0 1031.3,733.7 1033.4,734.3 1035.5,735.0 1037.6,734.1 1039.7,733.9 1041.8,734.2 1043.8,734.0 1045.9,733.2 1048.0,732.5 1050.1,732.0 1052.2,732.2 1054.2,731.2 1056.1,730.4 1058.0,730.5 1059.7,731.2 1061.3,731.5 1063.0,732.0 1064.7,732.6 1066.3,733.4 1068.0,733.8 1069.7,733.2 1071.3,732.5 1073.0,731.8 1075.1,731.7 1077.2,732.3 1079.2,731.2 1081.3,731.5 1083.4,732.5 1085.5,732.5 1087.6,733.0 1089.7,732.8 1091.8,733.2 1093.8,733.0 1095.9,731.7 1098.0,731.5 1100.1,732.1 1102.2,731.3 1104.2,731.8 1105.9,731.1 1107.6,731.1 1109.2,730.5 1111.1,730.2 1113.0,729.2 1114.9,730.7 1116.8,731.2 1118.4,731.7 1120.1,731.2 1121.8,731.2 1123.6,732.4 1125.5,734.5 1127.4,735.4 1129.2,735.8 1130.5,741.2 1133.0,737.0 1134.9,736.4 1136.8,735.5 1138.4,735.9 1140.1,737.6 1141.8,738.0 1143.8,739.4 1145.9,740.2 1148.0,742.0 1149.7,740.9 1151.3,738.7 1153.0,738.0 1154.7,737.4 1156.3,737.8 1158.0,737.5 1159.7,737.5 1161.3,738.9 1163.0,739.5 1165.1,739.9 1167.2,741.8 1169.2,742.5 1171.3,742.3 1173.4,742.9 1175.5,743.0 1177.2,741.7 1178.8,741.7 1180.5,741.2 1183.0,738.8 1186.0,740.0 1187.7,740.4 1189.3,740.2 1191.0,740.0 1192.7,739.8 1194.3,741.7 1196.0,742.0 1197.7,742.2 1199.3,741.3 1201.0,741.2 1202.7,742.1 1204.3,741.1 1206.0,741.8 1207.7,741.5 1209.3,741.9 1211.0,741.2 1212.7,742.1 1214.3,742.3 1216.0,742.0 1218.0,746.2 1219.8,751.2 1221.5,752.5 1223.5,756.2 1226.0,751.2 1228.0,753.0 1231.0,750.0 1232.9,751.0 1234.8,753.0 1236.4,752.6 1238.1,754.0 1239.8,754.2 1241.4,752.9 1243.1,752.7 1244.8,752.0 1246.4,750.9 1248.1,751.5 1249.8,750.5 1251.4,750.5 1253.1,750.1 1254.8,749.5 1256.6,748.5 1258.5,747.5 1260.0,744.5 1261.8,744.1 1263.5,743.8 1265.2,742.8 1266.8,742.3 1268.5,741.2 1270.4,739.5 1272.2,737.5 1274.1,737.5 1276.0,737.0 1277.9,736.1 1279.8,735.5 1281.4,735.6 1283.1,734.1 1284.8,733.2 1286.6,734.8 1288.5,735.0 1290.2,735.8 1291.8,734.9 1293.5,735.5 1295.4,734.5 1297.2,735.0 1299.1,736.4 1301.0,736.8 1302.7,736.5 1304.3,736.6 1306.0,736.5 1307.7,736.9 1309.3,737.6 1311.0,738.0 1312.9,738.2 1314.8,739.5 1316.6,739.7 1318.5,740.0 1320.4,738.8 1322.2,738.0 1324.1,738.4 1326.0,738.8 1327.9,738.9 1329.8,741.2 1331.6,742.0 1333.5,742.0 1335.4,742.6 1337.2,743.0 1339.1,741.3 1341.0,741.2 1342.7,740.3 1344.3,740.1 1346.0,739.5 1347.7,739.3 1349.3,738.5 1351.0,738.0 1352.7,738.5 1354.3,737.7 1356.0,737.5 1357.7,737.5 1359.3,738.0 1361.0,738.8 1363.0,740.0 1364.2,750.0 1366.0,744.5 1367.7,744.4 1369.3,743.4 1371.0,743.2 1372.9,743.0 1374.8,742.0 1377.2,739.5 1379.1,739.2 1381.0,738.0 1382.7,738.3 1384.3,738.5 1386.0,738.0 1387.7,737.8 1389.3,737.7 1391.0,737.5 1392.9,737.5 1394.8,737.9 1396.6,737.7 1398.5,738.8 1400.6,738.1 1402.7,737.4 1404.8,737.5 1406.8,736.4 1408.9,736.7 1411.0,736.2 1412.9,736.8 1414.8,736.7 1416.6,737.8 1418.5,737.5 1420.4,737.8 1422.2,737.7 1424.1,736.9 1426.0,737.0 1427.9,735.8 1429.8,736.3 1431.6,735.6 1433.5,735.0 1435.4,734.9 1437.2,734.3 1439.1,734.3 1441.0,733.2 1442.9,732.8 1444.8,732.9 1446.6,731.9 1448.5,732.0 1450.6,730.5 1452.7,730.8 1454.8,730.5 1456.8,731.6 1458.9,730.6 1461.0,731.8 1463.1,731.6 1465.2,730.3 1467.2,730.0 1469.3,730.1 1471.4,730.5 1473.5,730.8 1475.4,730.8 1477.2,730.2 1479.1,730.6 1481.0,730.5 1482.9,731.0 1484.8,731.5 1486.6,731.1 1488.5,731.8 1490.2,733.1 1491.8,733.9 1493.5,733.8 1495.2,735.7 1496.8,734.8 1498.5,736.2 1500.2,736.2 1501.8,735.1 1503.5,735.8 1505.2,736.5 1506.8,737.2 1508.5,737.5 1510.2,737.4 1511.8,737.6 1513.5,738.8 1515.2,738.0 1516.8,737.4 1518.5,736.2 1520.2,735.3 1521.8,735.0 1523.5,734.5 1525.6,733.1 1527.7,733.7 1529.8,733.8 1531.8,733.6 1533.9,733.5 1536.0,733.2 1538.1,733.5 1540.2,731.9 1542.2,732.0 1544.3,731.2 1546.4,732.5 1548.5,732.5 1550.6,732.9 1552.7,734.0 1554.8,734.5 1556.8,735.2 1558.9,735.4 1561.0,735.5 1563.1,736.8 1565.2,737.4 1567.2,737.5 1568.9,737.2 1570.6,738.3 1572.2,738.8 1573.9,739.2 1575.6,737.7 1577.2,737.5 1578.9,738.2 1580.6,738.0 1582.2,738.2 1584.3,737.8 1586.4,738.5 1588.5,737.5 1590.6,738.0 1592.7,737.4 1594.8,737.5 1596.4,738.3 1598.1,737.7 1599.8,738.8 1601.4,739.3 1603.1,740.8 1604.8,741.2 1606.8,741.7 1608.9,741.6 1611.0,742.5 1613.5,748.8 1615.4,749.6 1617.2,750.0 1618.9,749.3 1620.6,748.9 1622.2,747.5 1623.9,747.5 1625.6,746.5 1627.2,746.2 1628.9,745.8 1630.6,745.7 1632.2,745.5 1634.1,747.0 1636.0,748.8 1637.7,749.0 1639.3,748.6 1641.0,747.5 1642.9,749.4 1644.8,750.0 1646.4,750.0 1648.1,749.6 1649.8,749.5 1651.6,749.7 1653.5,749.0 1655.4,749.0 1657.2,748.8 1659.8,753.0 1662.2,753.8 1663.9,752.4 1665.6,752.4 1667.2,752.0 1668.9,752.8 1670.6,751.9 1672.2,752.5 1674.4,751.2 1676.5,751.2 1678.1,748.1 1679.8,745.0 1681.4,745.6 1683.1,745.3 1684.8,744.5 1686.4,744.5 1688.1,744.6 1689.8,745.0 1691.4,744.8 1693.1,744.2 1694.8,744.5 1697.2,741.2 1699.1,740.6 1701.0,740.0 1702.7,739.6 1704.3,738.8 1706.0,739.2 1707.7,739.4 1709.3,740.0 1711.0,740.5 1713.1,740.2 1715.2,740.2 1717.2,740.8 1718.9,741.3 1720.6,741.9 1722.3,741.0 1724.0,741.2 1725.9,740.1 1727.8,739.2 1729.4,739.6 1731.1,739.3 1732.8,739.5 1734.4,739.3 1736.1,740.5 1737.8,740.0 1739.4,739.5 1741.1,739.7 1742.8,740.0 1745.2,742.5 1746.9,742.2 1748.6,742.1 1750.2,742.5 1752.3,742.2 1754.4,742.4 1756.5,742.0 1758.2,742.4 1759.8,741.8 1761.5,741.2 1763.2,740.2 1764.8,738.5 1766.5,738.0 1768.2,737.8 1769.8,737.2 1771.5,737.5 1773.2,737.0 1774.8,737.1 1776.5,736.2 1778.2,736.2 1779.8,735.8 1781.5,735.8 1783.2,735.2 1784.8,735.2 1786.5,735.0 1788.2,735.7 1789.8,735.9 1791.5,737.0 1793.2,736.5 1794.8,736.9 1796.5,736.2 1798.2,734.7 1799.8,734.4 1801.5,733.8 1803.2,732.8 1804.8,733.6 1806.5,732.5 1808.2,733.0 1809.8,733.2 1811.5,733.2 1813.6,733.8 1815.7,734.0 1817.8,734.2 1819.8,734.6 1821.9,734.0 1824.0,735.0 1825.7,734.9 1827.3,734.9 1829.0,734.5 1830.7,733.8 1832.3,734.7 1834.0,734.2 1835.7,735.1 1837.3,734.6 1839.0,735.8 1840.7,735.9 1842.3,736.3 1844.0,736.8 1845.7,735.9 1847.3,735.8 1849.0,735.0 1850.9,735.4 1852.8,737.0 1854.4,736.8 1856.1,736.9 1857.8,736.8 1859.6,737.7 1861.5,738.0 1863.2,737.4 1864.8,736.7 1866.5,736.2 1868.2,736.6 1869.8,735.4 1871.5,736.2 1873.6,736.3 1875.7,735.3 1877.8,735.0 1879.4,733.6 1881.1,733.1 1882.8,732.5 1884.4,731.7 1886.1,731.6 1887.8,732.5 1889.4,732.6 1891.1,732.7 1892.8,733.2 1894.4,733.9 1896.1,733.5 1897.8,734.2 1899.4,733.3 1901.1,733.0 1902.8,733.0 1904.4,734.2 1906.1,733.8 1907.8,734.2 1909.4,734.2 1911.1,734.3 1912.8,735.0 1914.4,735.2 1916.1,736.3 1917.8,737.0 1919.4,736.9 1921.1,737.0 1922.8,736.2 1924.4,736.8 1926.1,736.4 1927.8,736.2 1929.4,735.4 1931.1,734.7 1932.8,734.5 1934.8,733.3 1936.9,733.7 1939.0,734.0 1940.9,734.3 1942.8,734.0 1944.6,734.4 1946.5,734.2 1948.4,733.5 1950.2,734.4 1952.1,734.0 1954.0,733.8 1955.9,733.8 1957.8,734.1 1959.6,732.9 1961.5,734.0 1963.4,733.8 1965.2,733.7 1967.1,735.0 1969.0,734.2 1970.7,734.6 1972.3,734.9 1974.0,735.5 1976.1,735.5 1978.2,734.2 1980.2,734.2 1981.9,735.4 1983.6,734.9 1985.2,735.8 1987.1,735.6 1989.0,735.5 1990.9,736.1 1992.8,737.5 1994.6,738.7 1996.5,739.2 1998.2,738.0 1999.8,739.1 2001.5,738.5 2003.6,738.0 2005.7,738.4 2007.8,738.2 2009.4,737.5 2011.1,737.9 2012.8,737.5 2014.6,738.2 2016.5,738.8 2018.4,740.9 2020.2,742.5 2021.9,742.8 2023.6,743.1 2025.2,743.0 2027.2,742.9 2029.1,741.7 2031.0,741.2"/></g>
<g clip-path="url(#csel)" opacity="0.10"><rect x="756" y="620" width="616" height="171" fill="#000" filter="url(#bl)"/></g>
<rect x="1373.2" y="742.2" width="23.3" height="27.6" rx="8.5" fill="#2f3245"/>
<rect x="1381.0" y="751" width="1.6" height="10.5" fill="#c9cbd6"/><rect x="1386.8" y="751" width="1.6" height="10.5" fill="#c9cbd6"/>
<rect x="2013.2" y="742.2" width="23.3" height="27.6" rx="8.5" fill="#2f3245"/>
<rect x="2021.0" y="751" width="1.6" height="10.5" fill="#c9cbd6"/><rect x="2026.8" y="751" width="1.6" height="10.5" fill="#c9cbd6"/>
</svg>
<div class="b" style="left:23.2px;top:498.2px;width:103.9px;height:34.4px;background:#cacaca;border-radius:5px"></div>
<div class="t" style="left:34.80px;transform-origin:0 50%;top:504.41px;height:22px;line-height:22px;font-size:18.40px;color:#fff;transform:scaleX(0.9822);-webkit-text-stroke:0.35px #fff;">46,200.00</div>
<div class="b" style="left:2032.2px;top:498px;width:65px;height:35px;background:#cacaca;border-radius:5px"></div>
<div class="t" style="left:2043.40px;transform-origin:0 50%;top:503.12px;height:23px;line-height:23px;font-size:19.40px;color:#fff;transform:scaleX(0.9498);-webkit-text-stroke:0.35px #fff;">-0.00</div>
<div class="b" style="left:716.4px;top:679px;width:173px;height:34.7px;background:#000;border-radius:5px"></div>
<div class="t" style="left:726.21px;transform-origin:50% 50%;top:684.72px;height:23px;line-height:23px;font-size:19.40px;color:#fff;transform:scaleX(0.9793);-webkit-text-stroke:0.35px #fff;">2022-06-14 08:00</div>
<div class="b" style="left:834.4px;top:547.8px;width:585.7px;height:169.1px;background:rgba(255,255,255,.72);border-radius:12.5px 3.5px 3.5px 12.5px;box-shadow:0 3px 16px rgba(0,0,0,.17)"><div style="position:absolute;left:0.7px;top:0.9px;right:0.9px;bottom:0.7px;background:#f1f2f6;border-radius:12px"></div></div>
<svg width="2152" height="810" viewBox="0 0 2152 810">
<circle cx="867" cy="640.6" r="6.9" fill="#3dcc7d" stroke="#353a45" stroke-width="2.2"/>
<circle cx="867" cy="675.5" r="6.9" fill="#ecb94c" stroke="#353a45" stroke-width="2.2"/>
</svg>
<div class="t" style="left:859.60px;transform-origin:0 50%;top:574.89px;height:30px;line-height:30px;font-size:25.20px;color:#111;transform:scaleX(0.9398);-webkit-text-stroke:0.35px #111;">2022-06-14 08:00</div>
<div class="t" style="left:1199.67px;transform-origin:100% 50%;top:626.09px;height:30px;line-height:30px;font-size:25.20px;color:#111;transform:scaleX(0.9478);-webkit-text-stroke:0.35px #111;">-0.041148600000</div>
<div class="t" style="left:1278.15px;transform-origin:100% 50%;top:660.89px;height:30px;line-height:30px;font-size:25.20px;color:#111;transform:scaleX(0.9509);-webkit-text-stroke:0.35px #111;">$22115.46</div>
<div class="t" style="left:1103.50px;transform-origin:0 50%;top:626.78px;height:29px;line-height:29px;font-size:24.20px;color:#3a3f49;transform:scaleX(0.9297);-webkit-text-stroke:0.15px #3a3f49;">(NUPL)</div>
<div class="t" style="left:880.30px;transform-origin:0 50%;top:661.58px;height:29px;line-height:29px;font-size:24.20px;color:#3a3f49;transform:scaleX(0.8781);-webkit-text-stroke:0.15px #3a3f49;">BTC</div>
<span class="h" style="left:881.0px;top:626.0px;font-size:24.0px;width:216.0px;height:28.8px;line-height:28.8px;color:#3a3f49">比特币未实现净盈亏</span>
<span class="h" style="left:925.0px;top:661.0px;font-size:24.0px;width:48.0px;height:28.8px;line-height:28.8px;color:#3a3f49">价格</span>
</body></html>
